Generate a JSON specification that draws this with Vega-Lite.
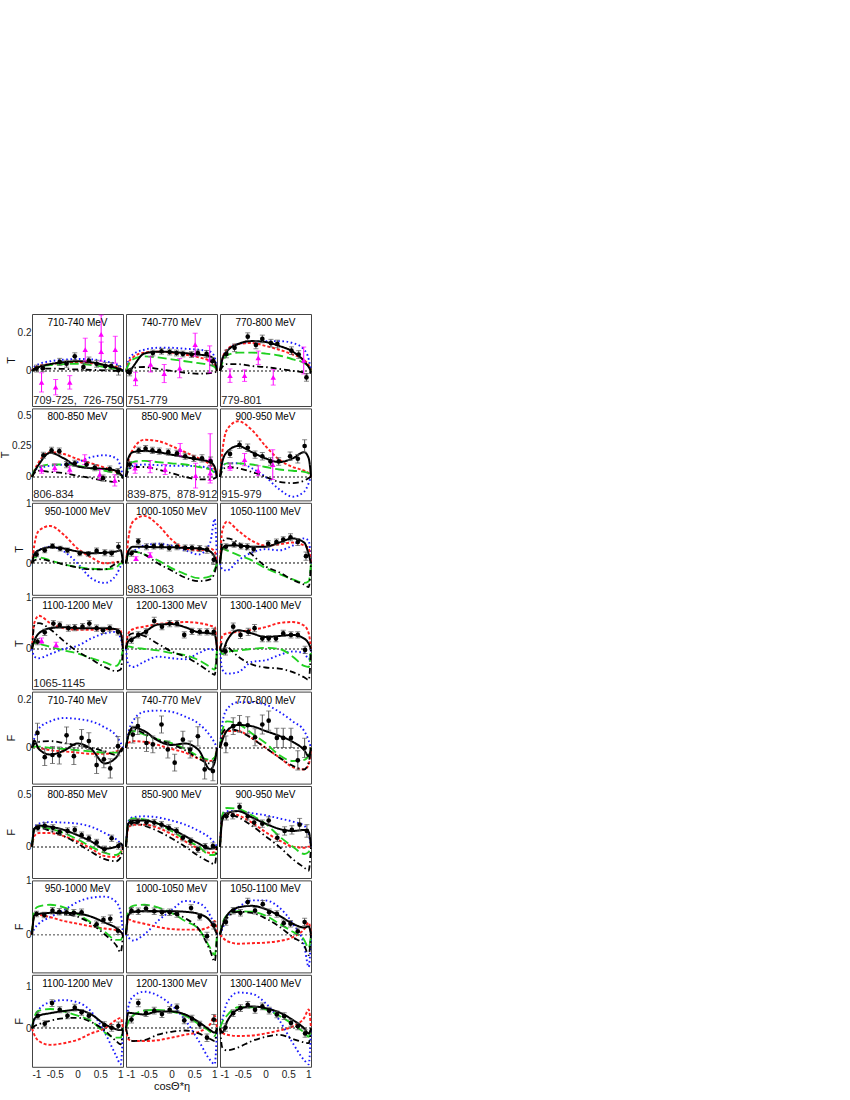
{
"$schema":"https://vega.github.io/schema/vega-lite/v6.json",
"background":"white",
"padding":{"left":-1,"top":313,"right":5,"bottom":3},
"config":{"view":{"stroke":"#444","strokeWidth":1},"font":"Liberation Sans","axis":{"grid":false,"labelFont":"Liberation Sans","titleFont":"Liberation Sans","labelColor":"#222","titleColor":"#111","titleFontWeight":"normal","labelFontSize":10,"titleFontSize":11,"ticks":false,"domain":false},"axisY":{"labelPadding":1,"titlePadding":1},"axisX":{"labelPadding":3,"titlePadding":1},
"line":{"interpolate":"monotone","clip":true},"circle":{"size":22,"color":"#000","opacity":1,"clip":true},"point":{"shape":"triangle-up","filled":true,"color":"#ff00ff","size":30,"opacity":1,"clip":true},"text":{"fontSize":10,"color":"#000"}},
"data":{"values":[
{"p":1,"t":"l","lab":"710-740 MeV","sub":"709-725,\u00a0\u00a0726-750"},
{"p":2,"t":"l","lab":"740-770 MeV","sub":"751-779"},
{"p":3,"t":"l","lab":"770-800 MeV","sub":"779-801"},
{"p":4,"t":"l","lab":"800-850 MeV","sub":"806-834"},
{"p":5,"t":"l","lab":"850-900 MeV","sub":"839-875,\u00a0\u00a0878-912"},
{"p":6,"t":"l","lab":"900-950 MeV","sub":"915-979"},
{"p":7,"t":"l","lab":"950-1000 MeV"},
{"p":8,"t":"l","lab":"1000-1050 MeV","sub":"983-1063"},
{"p":9,"t":"l","lab":"1050-1100 MeV"},
{"p":10,"t":"l","lab":"1100-1200 MeV","sub":"1065-1145"},
{"p":11,"t":"l","lab":"1200-1300 MeV"},
{"p":12,"t":"l","lab":"1300-1400 MeV"},
{"p":13,"t":"l","lab":"710-740 MeV"},
{"p":14,"t":"l","lab":"740-770 MeV"},
{"p":15,"t":"l","lab":"770-800 MeV"},
{"p":16,"t":"l","lab":"800-850 MeV"},
{"p":17,"t":"l","lab":"850-900 MeV"},
{"p":18,"t":"l","lab":"900-950 MeV"},
{"p":19,"t":"l","lab":"950-1000 MeV"},
{"p":20,"t":"l","lab":"1000-1050 MeV"},
{"p":21,"t":"l","lab":"1050-1100 MeV"},
{"p":22,"t":"l","lab":"1100-1200 MeV"},
{"p":23,"t":"l","lab":"1200-1300 MeV"},
{"p":24,"t":"l","lab":"1300-1400 MeV"},

{"p":1,"s":"C","x":-1,"y":0},{"p":1,"s":"C","x":-0.95,"y":0.02},{"p":1,"s":"C","x":-0.85,"y":0.035},{"p":1,"s":"C","x":-0.6,"y":0.05},{"p":1,"s":"C","x":-0.3,"y":0.058},{"p":1,"s":"C","x":0,"y":0.062},{"p":1,"s":"C","x":0.3,"y":0.06},{"p":1,"s":"C","x":0.6,"y":0.05},{"p":1,"s":"C","x":0.85,"y":0.035},{"p":1,"s":"C","x":0.95,"y":0.02},{"p":1,"s":"C","x":1,"y":0},
{"p":1,"s":"B","x":-1,"y":0},{"p":1,"s":"B","x":-0.95,"y":0.015},{"p":1,"s":"B","x":-0.85,"y":0.025},{"p":1,"s":"B","x":-0.6,"y":0.035},{"p":1,"s":"B","x":-0.3,"y":0.042},{"p":1,"s":"B","x":0,"y":0.045},{"p":1,"s":"B","x":0.3,"y":0.04},{"p":1,"s":"B","x":0.6,"y":0.03},{"p":1,"s":"B","x":0.85,"y":0.02},{"p":1,"s":"B","x":0.95,"y":0.01},{"p":1,"s":"B","x":1,"y":0},
{"p":1,"s":"D","x":-1,"y":0},{"p":1,"s":"D","x":-0.95,"y":0.01},{"p":1,"s":"D","x":-0.85,"y":0.02},{"p":1,"s":"D","x":-0.6,"y":0.03},{"p":1,"s":"D","x":-0.3,"y":0.035},{"p":1,"s":"D","x":0,"y":0.037},{"p":1,"s":"D","x":0.3,"y":0.03},{"p":1,"s":"D","x":0.6,"y":0.02},{"p":1,"s":"D","x":0.85,"y":0.01},{"p":1,"s":"D","x":0.95,"y":0.005},{"p":1,"s":"D","x":1,"y":0},
{"p":1,"s":"E","x":-1,"y":0},{"p":1,"s":"E","x":-0.95,"y":0.005},{"p":1,"s":"E","x":-0.85,"y":0.01},{"p":1,"s":"E","x":-0.6,"y":0.012},{"p":1,"s":"E","x":-0.3,"y":0.01},{"p":1,"s":"E","x":0,"y":0.007},{"p":1,"s":"E","x":0.3,"y":0.005},{"p":1,"s":"E","x":0.6,"y":0.003},{"p":1,"s":"E","x":0.85,"y":0},{"p":1,"s":"E","x":0.95,"y":0},{"p":1,"s":"E","x":1,"y":0},
{"p":1,"s":"A","x":-1,"y":0},{"p":1,"s":"A","x":-0.95,"y":0.01},{"p":1,"s":"A","x":-0.85,"y":0.02},{"p":1,"s":"A","x":-0.6,"y":0.035},{"p":1,"s":"A","x":-0.3,"y":0.045},{"p":1,"s":"A","x":0,"y":0.05},{"p":1,"s":"A","x":0.3,"y":0.045},{"p":1,"s":"A","x":0.6,"y":0.03},{"p":1,"s":"A","x":0.85,"y":0.015},{"p":1,"s":"A","x":0.95,"y":0.008},{"p":1,"s":"A","x":1,"y":0},

{"p":2,"s":"C","x":-1,"y":0},{"p":2,"s":"C","x":-0.95,"y":0.05},{"p":2,"s":"C","x":-0.85,"y":0.085},{"p":2,"s":"C","x":-0.6,"y":0.11},{"p":2,"s":"C","x":-0.3,"y":0.12},{"p":2,"s":"C","x":0,"y":0.12},{"p":2,"s":"C","x":0.3,"y":0.115},{"p":2,"s":"C","x":0.6,"y":0.11},{"p":2,"s":"C","x":0.85,"y":0.1},{"p":2,"s":"C","x":0.95,"y":0.07},{"p":2,"s":"C","x":1,"y":0},
{"p":2,"s":"B","x":-1,"y":0},{"p":2,"s":"B","x":-0.95,"y":0.04},{"p":2,"s":"B","x":-0.85,"y":0.07},{"p":2,"s":"B","x":-0.6,"y":0.095},{"p":2,"s":"B","x":-0.3,"y":0.1},{"p":2,"s":"B","x":0,"y":0.095},{"p":2,"s":"B","x":0.3,"y":0.085},{"p":2,"s":"B","x":0.6,"y":0.07},{"p":2,"s":"B","x":0.85,"y":0.05},{"p":2,"s":"B","x":0.95,"y":0.03},{"p":2,"s":"B","x":1,"y":0},
{"p":2,"s":"D","x":-1,"y":0},{"p":2,"s":"D","x":-0.95,"y":0.03},{"p":2,"s":"D","x":-0.85,"y":0.06},{"p":2,"s":"D","x":-0.6,"y":0.075},{"p":2,"s":"D","x":-0.3,"y":0.07},{"p":2,"s":"D","x":0,"y":0.06},{"p":2,"s":"D","x":0.3,"y":0.05},{"p":2,"s":"D","x":0.6,"y":0.04},{"p":2,"s":"D","x":0.85,"y":0.03},{"p":2,"s":"D","x":0.95,"y":0.02},{"p":2,"s":"D","x":1,"y":0},
{"p":2,"s":"E","x":-1,"y":0},{"p":2,"s":"E","x":-0.95,"y":0.005},{"p":2,"s":"E","x":-0.85,"y":0.015},{"p":2,"s":"E","x":-0.6,"y":0.02},{"p":2,"s":"E","x":-0.3,"y":0.01},{"p":2,"s":"E","x":0,"y":0},{"p":2,"s":"E","x":0.3,"y":-0.01},{"p":2,"s":"E","x":0.6,"y":-0.015},{"p":2,"s":"E","x":0.85,"y":-0.012},{"p":2,"s":"E","x":0.95,"y":-0.008},{"p":2,"s":"E","x":1,"y":0},
{"p":2,"s":"A","x":-1,"y":0},{"p":2,"s":"A","x":-0.95,"y":-0.012},{"p":2,"s":"A","x":-0.85,"y":0.02},{"p":2,"s":"A","x":-0.6,"y":0.09},{"p":2,"s":"A","x":-0.3,"y":0.1},{"p":2,"s":"A","x":0,"y":0.098},{"p":2,"s":"A","x":0.3,"y":0.092},{"p":2,"s":"A","x":0.6,"y":0.085},{"p":2,"s":"A","x":0.85,"y":0.075},{"p":2,"s":"A","x":0.95,"y":0.05},{"p":2,"s":"A","x":1,"y":0},

{"p":3,"s":"C","x":-1,"y":0},{"p":3,"s":"C","x":-0.95,"y":0.06},{"p":3,"s":"C","x":-0.85,"y":0.11},{"p":3,"s":"C","x":-0.6,"y":0.14},{"p":3,"s":"C","x":-0.3,"y":0.15},{"p":3,"s":"C","x":0,"y":0.155},{"p":3,"s":"C","x":0.3,"y":0.155},{"p":3,"s":"C","x":0.6,"y":0.145},{"p":3,"s":"C","x":0.85,"y":0.11},{"p":3,"s":"C","x":0.95,"y":0.06},{"p":3,"s":"C","x":1,"y":0},
{"p":3,"s":"B","x":-1,"y":0},{"p":3,"s":"B","x":-0.95,"y":0.06},{"p":3,"s":"B","x":-0.85,"y":0.11},{"p":3,"s":"B","x":-0.6,"y":0.14},{"p":3,"s":"B","x":-0.3,"y":0.145},{"p":3,"s":"B","x":0,"y":0.13},{"p":3,"s":"B","x":0.3,"y":0.11},{"p":3,"s":"B","x":0.6,"y":0.085},{"p":3,"s":"B","x":0.85,"y":0.055},{"p":3,"s":"B","x":0.95,"y":0.03},{"p":3,"s":"B","x":1,"y":0},
{"p":3,"s":"D","x":-1,"y":0},{"p":3,"s":"D","x":-0.95,"y":0.04},{"p":3,"s":"D","x":-0.85,"y":0.08},{"p":3,"s":"D","x":-0.6,"y":0.095},{"p":3,"s":"D","x":-0.3,"y":0.095},{"p":3,"s":"D","x":0,"y":0.09},{"p":3,"s":"D","x":0.3,"y":0.08},{"p":3,"s":"D","x":0.6,"y":0.06},{"p":3,"s":"D","x":0.85,"y":0.04},{"p":3,"s":"D","x":0.95,"y":0.02},{"p":3,"s":"D","x":1,"y":0},
{"p":3,"s":"E","x":-1,"y":0},{"p":3,"s":"E","x":-0.95,"y":0.02},{"p":3,"s":"E","x":-0.85,"y":0.035},{"p":3,"s":"E","x":-0.6,"y":0.035},{"p":3,"s":"E","x":-0.3,"y":0.025},{"p":3,"s":"E","x":0,"y":0.02},{"p":3,"s":"E","x":0.3,"y":0.01},{"p":3,"s":"E","x":0.6,"y":0},{"p":3,"s":"E","x":0.85,"y":-0.01},{"p":3,"s":"E","x":0.95,"y":-0.02},{"p":3,"s":"E","x":1,"y":0},
{"p":3,"s":"A","x":-1,"y":0},{"p":3,"s":"A","x":-0.95,"y":0.06},{"p":3,"s":"A","x":-0.85,"y":0.1},{"p":3,"s":"A","x":-0.6,"y":0.14},{"p":3,"s":"A","x":-0.3,"y":0.155},{"p":3,"s":"A","x":0,"y":0.15},{"p":3,"s":"A","x":0.3,"y":0.13},{"p":3,"s":"A","x":0.6,"y":0.1},{"p":3,"s":"A","x":0.85,"y":0.05},{"p":3,"s":"A","x":0.95,"y":0.02},{"p":3,"s":"A","x":1,"y":0},

{"p":4,"s":"C","x":-1,"y":0},{"p":4,"s":"C","x":-0.95,"y":0.05},{"p":4,"s":"C","x":-0.85,"y":0.07},{"p":4,"s":"C","x":-0.6,"y":0.09},{"p":4,"s":"C","x":-0.3,"y":0.1},{"p":4,"s":"C","x":0,"y":0.12},{"p":4,"s":"C","x":0.3,"y":0.16},{"p":4,"s":"C","x":0.6,"y":0.175},{"p":4,"s":"C","x":0.85,"y":0.15},{"p":4,"s":"C","x":0.95,"y":0.08},{"p":4,"s":"C","x":1,"y":0},
{"p":4,"s":"B","x":-1,"y":0},{"p":4,"s":"B","x":-0.95,"y":0.05},{"p":4,"s":"B","x":-0.85,"y":0.12},{"p":4,"s":"B","x":-0.6,"y":0.2},{"p":4,"s":"B","x":-0.3,"y":0.185},{"p":4,"s":"B","x":0,"y":0.145},{"p":4,"s":"B","x":0.3,"y":0.11},{"p":4,"s":"B","x":0.6,"y":0.075},{"p":4,"s":"B","x":0.85,"y":0.04},{"p":4,"s":"B","x":0.95,"y":0.02},{"p":4,"s":"B","x":1,"y":0},
{"p":4,"s":"D","x":-1,"y":0},{"p":4,"s":"D","x":-0.95,"y":0.05},{"p":4,"s":"D","x":-0.85,"y":0.08},{"p":4,"s":"D","x":-0.6,"y":0.1},{"p":4,"s":"D","x":-0.3,"y":0.1},{"p":4,"s":"D","x":0,"y":0.09},{"p":4,"s":"D","x":0.3,"y":0.07},{"p":4,"s":"D","x":0.6,"y":0.05},{"p":4,"s":"D","x":0.85,"y":0.03},{"p":4,"s":"D","x":0.95,"y":0.015},{"p":4,"s":"D","x":1,"y":0},
{"p":4,"s":"E","x":-1,"y":0},{"p":4,"s":"E","x":-0.95,"y":0.03},{"p":4,"s":"E","x":-0.85,"y":0.05},{"p":4,"s":"E","x":-0.6,"y":0.04},{"p":4,"s":"E","x":-0.3,"y":0.03},{"p":4,"s":"E","x":0,"y":0.01},{"p":4,"s":"E","x":0.3,"y":-0.01},{"p":4,"s":"E","x":0.6,"y":-0.03},{"p":4,"s":"E","x":0.85,"y":-0.04},{"p":4,"s":"E","x":0.95,"y":-0.02},{"p":4,"s":"E","x":1,"y":0},
{"p":4,"s":"A","x":-1,"y":0},{"p":4,"s":"A","x":-0.95,"y":0.04},{"p":4,"s":"A","x":-0.85,"y":0.1},{"p":4,"s":"A","x":-0.6,"y":0.195},{"p":4,"s":"A","x":-0.3,"y":0.15},{"p":4,"s":"A","x":0,"y":0.085},{"p":4,"s":"A","x":0.3,"y":0.07},{"p":4,"s":"A","x":0.6,"y":0.065},{"p":4,"s":"A","x":0.85,"y":0.05},{"p":4,"s":"A","x":0.95,"y":0.02},{"p":4,"s":"A","x":1,"y":0},

{"p":5,"s":"C","x":-1,"y":0},{"p":5,"s":"C","x":-0.95,"y":0.06},{"p":5,"s":"C","x":-0.85,"y":0.09},{"p":5,"s":"C","x":-0.6,"y":0.1},{"p":5,"s":"C","x":-0.3,"y":0.095},{"p":5,"s":"C","x":0,"y":0.09},{"p":5,"s":"C","x":0.3,"y":0.09},{"p":5,"s":"C","x":0.6,"y":0.085},{"p":5,"s":"C","x":0.85,"y":0.07},{"p":5,"s":"C","x":0.95,"y":0.04},{"p":5,"s":"C","x":1,"y":0},
{"p":5,"s":"B","x":-1,"y":0},{"p":5,"s":"B","x":-0.95,"y":0.12},{"p":5,"s":"B","x":-0.85,"y":0.22},{"p":5,"s":"B","x":-0.6,"y":0.3},{"p":5,"s":"B","x":-0.3,"y":0.29},{"p":5,"s":"B","x":0,"y":0.25},{"p":5,"s":"B","x":0.3,"y":0.2},{"p":5,"s":"B","x":0.6,"y":0.15},{"p":5,"s":"B","x":0.85,"y":0.1},{"p":5,"s":"B","x":0.95,"y":0.06},{"p":5,"s":"B","x":1,"y":0},
{"p":5,"s":"D","x":-1,"y":0},{"p":5,"s":"D","x":-0.95,"y":0.08},{"p":5,"s":"D","x":-0.85,"y":0.12},{"p":5,"s":"D","x":-0.6,"y":0.13},{"p":5,"s":"D","x":-0.3,"y":0.12},{"p":5,"s":"D","x":0,"y":0.11},{"p":5,"s":"D","x":0.3,"y":0.1},{"p":5,"s":"D","x":0.6,"y":0.08},{"p":5,"s":"D","x":0.85,"y":0.06},{"p":5,"s":"D","x":0.95,"y":0.03},{"p":5,"s":"D","x":1,"y":0},
{"p":5,"s":"E","x":-1,"y":0},{"p":5,"s":"E","x":-0.95,"y":0.05},{"p":5,"s":"E","x":-0.85,"y":0.08},{"p":5,"s":"E","x":-0.6,"y":0.08},{"p":5,"s":"E","x":-0.3,"y":0.06},{"p":5,"s":"E","x":0,"y":0.03},{"p":5,"s":"E","x":0.3,"y":0},{"p":5,"s":"E","x":0.6,"y":-0.02},{"p":5,"s":"E","x":0.85,"y":-0.02},{"p":5,"s":"E","x":0.95,"y":-0.01},{"p":5,"s":"E","x":1,"y":0},
{"p":5,"s":"A","x":-1,"y":0},{"p":5,"s":"A","x":-0.95,"y":0.15},{"p":5,"s":"A","x":-0.85,"y":0.2},{"p":5,"s":"A","x":-0.6,"y":0.21},{"p":5,"s":"A","x":-0.3,"y":0.2},{"p":5,"s":"A","x":0,"y":0.18},{"p":5,"s":"A","x":0.3,"y":0.16},{"p":5,"s":"A","x":0.6,"y":0.14},{"p":5,"s":"A","x":0.85,"y":0.12},{"p":5,"s":"A","x":0.95,"y":0.08},{"p":5,"s":"A","x":1,"y":0},

{"p":6,"s":"C","x":-1,"y":0},{"p":6,"s":"C","x":-0.95,"y":0.08},{"p":6,"s":"C","x":-0.85,"y":0.11},{"p":6,"s":"C","x":-0.6,"y":0.11},{"p":6,"s":"C","x":-0.3,"y":0.07},{"p":6,"s":"C","x":0,"y":0},{"p":6,"s":"C","x":0.3,"y":-0.1},{"p":6,"s":"C","x":0.6,"y":-0.16},{"p":6,"s":"C","x":0.85,"y":-0.12},{"p":6,"s":"C","x":0.95,"y":-0.05},{"p":6,"s":"C","x":1,"y":0},
{"p":6,"s":"B","x":-1,"y":0},{"p":6,"s":"B","x":-0.95,"y":0.2},{"p":6,"s":"B","x":-0.85,"y":0.38},{"p":6,"s":"B","x":-0.6,"y":0.45},{"p":6,"s":"B","x":-0.3,"y":0.38},{"p":6,"s":"B","x":0,"y":0.25},{"p":6,"s":"B","x":0.3,"y":0.14},{"p":6,"s":"B","x":0.6,"y":0.08},{"p":6,"s":"B","x":0.85,"y":0.05},{"p":6,"s":"B","x":0.95,"y":0.03},{"p":6,"s":"B","x":1,"y":0},
{"p":6,"s":"D","x":-1,"y":0},{"p":6,"s":"D","x":-0.95,"y":0.08},{"p":6,"s":"D","x":-0.85,"y":0.11},{"p":6,"s":"D","x":-0.6,"y":0.11},{"p":6,"s":"D","x":-0.3,"y":0.1},{"p":6,"s":"D","x":0,"y":0.08},{"p":6,"s":"D","x":0.3,"y":0.06},{"p":6,"s":"D","x":0.6,"y":0.05},{"p":6,"s":"D","x":0.85,"y":0.04},{"p":6,"s":"D","x":0.95,"y":0.03},{"p":6,"s":"D","x":1,"y":0},
{"p":6,"s":"E","x":-1,"y":0},{"p":6,"s":"E","x":-0.95,"y":0.05},{"p":6,"s":"E","x":-0.85,"y":0.08},{"p":6,"s":"E","x":-0.6,"y":0.07},{"p":6,"s":"E","x":-0.3,"y":0.04},{"p":6,"s":"E","x":0,"y":0},{"p":6,"s":"E","x":0.3,"y":-0.04},{"p":6,"s":"E","x":0.6,"y":-0.05},{"p":6,"s":"E","x":0.85,"y":-0.03},{"p":6,"s":"E","x":0.95,"y":-0.01},{"p":6,"s":"E","x":1,"y":0},
{"p":6,"s":"A","x":-1,"y":0},{"p":6,"s":"A","x":-0.95,"y":0.12},{"p":6,"s":"A","x":-0.85,"y":0.2},{"p":6,"s":"A","x":-0.6,"y":0.25},{"p":6,"s":"A","x":-0.3,"y":0.2},{"p":6,"s":"A","x":0,"y":0.15},{"p":6,"s":"A","x":0.3,"y":0.12},{"p":6,"s":"A","x":0.6,"y":0.15},{"p":6,"s":"A","x":0.85,"y":0.2},{"p":6,"s":"A","x":0.95,"y":0.15},{"p":6,"s":"A","x":1,"y":0},

{"p":7,"s":"C","x":-1,"y":0},{"p":7,"s":"C","x":-0.95,"y":0.15},{"p":7,"s":"C","x":-0.85,"y":0.22},{"p":7,"s":"C","x":-0.6,"y":0.28},{"p":7,"s":"C","x":-0.3,"y":0.2},{"p":7,"s":"C","x":0,"y":0},{"p":7,"s":"C","x":0.3,"y":-0.25},{"p":7,"s":"C","x":0.6,"y":-0.33},{"p":7,"s":"C","x":0.85,"y":-0.2},{"p":7,"s":"C","x":0.95,"y":-0.05},{"p":7,"s":"C","x":1,"y":0},
{"p":7,"s":"B","x":-1,"y":0},{"p":7,"s":"B","x":-0.95,"y":0.3},{"p":7,"s":"B","x":-0.85,"y":0.55},{"p":7,"s":"B","x":-0.6,"y":0.63},{"p":7,"s":"B","x":-0.3,"y":0.48},{"p":7,"s":"B","x":0,"y":0.25},{"p":7,"s":"B","x":0.3,"y":0.1},{"p":7,"s":"B","x":0.6,"y":0},{"p":7,"s":"B","x":0.85,"y":0.02},{"p":7,"s":"B","x":0.95,"y":0.03},{"p":7,"s":"B","x":1,"y":0},
{"p":7,"s":"D","x":-1,"y":0},{"p":7,"s":"D","x":-0.95,"y":0.1},{"p":7,"s":"D","x":-0.85,"y":0.1},{"p":7,"s":"D","x":-0.6,"y":0.05},{"p":7,"s":"D","x":-0.3,"y":-0.02},{"p":7,"s":"D","x":0,"y":-0.06},{"p":7,"s":"D","x":0.3,"y":-0.09},{"p":7,"s":"D","x":0.6,"y":-0.1},{"p":7,"s":"D","x":0.85,"y":-0.07},{"p":7,"s":"D","x":0.95,"y":0},{"p":7,"s":"D","x":1,"y":0},
{"p":7,"s":"E","x":-1,"y":0},{"p":7,"s":"E","x":-0.95,"y":0.05},{"p":7,"s":"E","x":-0.85,"y":0.07},{"p":7,"s":"E","x":-0.6,"y":0.04},{"p":7,"s":"E","x":-0.3,"y":-0.02},{"p":7,"s":"E","x":0,"y":-0.07},{"p":7,"s":"E","x":0.3,"y":-0.1},{"p":7,"s":"E","x":0.6,"y":-0.1},{"p":7,"s":"E","x":0.85,"y":0},{"p":7,"s":"E","x":0.95,"y":0.05},{"p":7,"s":"E","x":1,"y":0},
{"p":7,"s":"A","x":-1,"y":0},{"p":7,"s":"A","x":-0.95,"y":0.15},{"p":7,"s":"A","x":-0.85,"y":0.22},{"p":7,"s":"A","x":-0.6,"y":0.27},{"p":7,"s":"A","x":-0.3,"y":0.25},{"p":7,"s":"A","x":0,"y":0.2},{"p":7,"s":"A","x":0.3,"y":0.17},{"p":7,"s":"A","x":0.6,"y":0.18},{"p":7,"s":"A","x":0.85,"y":0.2},{"p":7,"s":"A","x":0.95,"y":0.22},{"p":7,"s":"A","x":1,"y":0},

{"p":8,"s":"C","x":-1,"y":0},{"p":8,"s":"C","x":-0.95,"y":0.15},{"p":8,"s":"C","x":-0.85,"y":0.2},{"p":8,"s":"C","x":-0.6,"y":0.3},{"p":8,"s":"C","x":-0.3,"y":0.33},{"p":8,"s":"C","x":0,"y":0.3},{"p":8,"s":"C","x":0.3,"y":0.22},{"p":8,"s":"C","x":0.6,"y":0.15},{"p":8,"s":"C","x":0.85,"y":0.35},{"p":8,"s":"C","x":0.95,"y":0.75},{"p":8,"s":"C","x":1,"y":0},
{"p":8,"s":"B","x":-1,"y":0},{"p":8,"s":"B","x":-0.95,"y":0.4},{"p":8,"s":"B","x":-0.85,"y":0.7},{"p":8,"s":"B","x":-0.6,"y":0.8},{"p":8,"s":"B","x":-0.3,"y":0.65},{"p":8,"s":"B","x":0,"y":0.4},{"p":8,"s":"B","x":0.3,"y":0.25},{"p":8,"s":"B","x":0.6,"y":0.22},{"p":8,"s":"B","x":0.85,"y":0.25},{"p":8,"s":"B","x":0.95,"y":0.2},{"p":8,"s":"B","x":1,"y":0},
{"p":8,"s":"D","x":-1,"y":0},{"p":8,"s":"D","x":-0.95,"y":0.15},{"p":8,"s":"D","x":-0.85,"y":0.2},{"p":8,"s":"D","x":-0.6,"y":0.15},{"p":8,"s":"D","x":-0.3,"y":0.05},{"p":8,"s":"D","x":0,"y":-0.08},{"p":8,"s":"D","x":0.3,"y":-0.18},{"p":8,"s":"D","x":0.6,"y":-0.25},{"p":8,"s":"D","x":0.85,"y":-0.22},{"p":8,"s":"D","x":0.95,"y":-0.1},{"p":8,"s":"D","x":1,"y":0},
{"p":8,"s":"E","x":-1,"y":0},{"p":8,"s":"E","x":-0.95,"y":0.15},{"p":8,"s":"E","x":-0.85,"y":0.2},{"p":8,"s":"E","x":-0.6,"y":0.15},{"p":8,"s":"E","x":-0.3,"y":0},{"p":8,"s":"E","x":0,"y":-0.12},{"p":8,"s":"E","x":0.3,"y":-0.24},{"p":8,"s":"E","x":0.6,"y":-0.3},{"p":8,"s":"E","x":0.85,"y":-0.27},{"p":8,"s":"E","x":0.95,"y":-0.15},{"p":8,"s":"E","x":1,"y":0},
{"p":8,"s":"A","x":-1,"y":0},{"p":8,"s":"A","x":-0.95,"y":0.2},{"p":8,"s":"A","x":-0.85,"y":0.28},{"p":8,"s":"A","x":-0.6,"y":0.28},{"p":8,"s":"A","x":-0.3,"y":0.27},{"p":8,"s":"A","x":0,"y":0.27},{"p":8,"s":"A","x":0.3,"y":0.26},{"p":8,"s":"A","x":0.6,"y":0.25},{"p":8,"s":"A","x":0.85,"y":0.2},{"p":8,"s":"A","x":0.95,"y":0.1},{"p":8,"s":"A","x":1,"y":0},

{"p":9,"s":"C","x":-1,"y":0},{"p":9,"s":"C","x":-0.95,"y":-0.1},{"p":9,"s":"C","x":-0.85,"y":-0.12},{"p":9,"s":"C","x":-0.6,"y":0.05},{"p":9,"s":"C","x":-0.3,"y":0.18},{"p":9,"s":"C","x":0,"y":0.24},{"p":9,"s":"C","x":0.3,"y":0.22},{"p":9,"s":"C","x":0.6,"y":0.3},{"p":9,"s":"C","x":0.85,"y":0.42},{"p":9,"s":"C","x":0.95,"y":0.38},{"p":9,"s":"C","x":1,"y":0},
{"p":9,"s":"B","x":-1,"y":0},{"p":9,"s":"B","x":-0.95,"y":0.55},{"p":9,"s":"B","x":-0.85,"y":0.7},{"p":9,"s":"B","x":-0.6,"y":0.55},{"p":9,"s":"B","x":-0.3,"y":0.38},{"p":9,"s":"B","x":0,"y":0.3},{"p":9,"s":"B","x":0.3,"y":0.32},{"p":9,"s":"B","x":0.6,"y":0.35},{"p":9,"s":"B","x":0.85,"y":0.3},{"p":9,"s":"B","x":0.95,"y":0.25},{"p":9,"s":"B","x":1,"y":0},
{"p":9,"s":"D","x":-1,"y":0},{"p":9,"s":"D","x":-0.95,"y":0.25},{"p":9,"s":"D","x":-0.85,"y":0.22},{"p":9,"s":"D","x":-0.6,"y":0.14},{"p":9,"s":"D","x":-0.3,"y":0.05},{"p":9,"s":"D","x":0,"y":-0.08},{"p":9,"s":"D","x":0.3,"y":-0.18},{"p":9,"s":"D","x":0.6,"y":-0.27},{"p":9,"s":"D","x":0.85,"y":-0.33},{"p":9,"s":"D","x":0.95,"y":-0.3},{"p":9,"s":"D","x":1,"y":0},
{"p":9,"s":"E","x":-1,"y":0},{"p":9,"s":"E","x":-0.95,"y":0.35},{"p":9,"s":"E","x":-0.85,"y":0.42},{"p":9,"s":"E","x":-0.6,"y":0.35},{"p":9,"s":"E","x":-0.3,"y":0.15},{"p":9,"s":"E","x":0,"y":-0.05},{"p":9,"s":"E","x":0.3,"y":-0.15},{"p":9,"s":"E","x":0.6,"y":-0.28},{"p":9,"s":"E","x":0.85,"y":-0.36},{"p":9,"s":"E","x":0.95,"y":-0.4},{"p":9,"s":"E","x":1,"y":0},
{"p":9,"s":"A","x":-1,"y":0},{"p":9,"s":"A","x":-0.95,"y":0.25},{"p":9,"s":"A","x":-0.85,"y":0.3},{"p":9,"s":"A","x":-0.6,"y":0.3},{"p":9,"s":"A","x":-0.3,"y":0.28},{"p":9,"s":"A","x":0,"y":0.28},{"p":9,"s":"A","x":0.3,"y":0.35},{"p":9,"s":"A","x":0.6,"y":0.42},{"p":9,"s":"A","x":0.85,"y":0.35},{"p":9,"s":"A","x":0.95,"y":0.15},{"p":9,"s":"A","x":1,"y":0},

{"p":10,"s":"C","x":-1,"y":0},{"p":10,"s":"C","x":-0.95,"y":-0.15},{"p":10,"s":"C","x":-0.85,"y":-0.18},{"p":10,"s":"C","x":-0.6,"y":-0.1},{"p":10,"s":"C","x":-0.3,"y":0},{"p":10,"s":"C","x":0,"y":0.06},{"p":10,"s":"C","x":0.3,"y":0.2},{"p":10,"s":"C","x":0.6,"y":0.3},{"p":10,"s":"C","x":0.85,"y":0.33},{"p":10,"s":"C","x":0.95,"y":0.2},{"p":10,"s":"C","x":1,"y":0},
{"p":10,"s":"B","x":-1,"y":0},{"p":10,"s":"B","x":-0.95,"y":0.5},{"p":10,"s":"B","x":-0.85,"y":0.64},{"p":10,"s":"B","x":-0.6,"y":0.5},{"p":10,"s":"B","x":-0.3,"y":0.4},{"p":10,"s":"B","x":0,"y":0.37},{"p":10,"s":"B","x":0.3,"y":0.37},{"p":10,"s":"B","x":0.6,"y":0.38},{"p":10,"s":"B","x":0.85,"y":0.38},{"p":10,"s":"B","x":0.95,"y":0.35},{"p":10,"s":"B","x":1,"y":0},
{"p":10,"s":"D","x":-1,"y":0},{"p":10,"s":"D","x":-0.95,"y":0.12},{"p":10,"s":"D","x":-0.85,"y":0.1},{"p":10,"s":"D","x":-0.6,"y":0.04},{"p":10,"s":"D","x":-0.3,"y":-0.03},{"p":10,"s":"D","x":0,"y":-0.09},{"p":10,"s":"D","x":0.3,"y":-0.18},{"p":10,"s":"D","x":0.6,"y":-0.26},{"p":10,"s":"D","x":0.85,"y":-0.33},{"p":10,"s":"D","x":0.95,"y":-0.2},{"p":10,"s":"D","x":1,"y":0},
{"p":10,"s":"E","x":-1,"y":0},{"p":10,"s":"E","x":-0.95,"y":0.45},{"p":10,"s":"E","x":-0.85,"y":0.5},{"p":10,"s":"E","x":-0.6,"y":0.38},{"p":10,"s":"E","x":-0.3,"y":0.15},{"p":10,"s":"E","x":0,"y":-0.05},{"p":10,"s":"E","x":0.3,"y":-0.2},{"p":10,"s":"E","x":0.6,"y":-0.35},{"p":10,"s":"E","x":0.85,"y":-0.43},{"p":10,"s":"E","x":0.95,"y":-0.4},{"p":10,"s":"E","x":1,"y":0},
{"p":10,"s":"A","x":-1,"y":0},{"p":10,"s":"A","x":-0.95,"y":0.15},{"p":10,"s":"A","x":-0.85,"y":0.3},{"p":10,"s":"A","x":-0.6,"y":0.4},{"p":10,"s":"A","x":-0.3,"y":0.42},{"p":10,"s":"A","x":0,"y":0.4},{"p":10,"s":"A","x":0.3,"y":0.4},{"p":10,"s":"A","x":0.6,"y":0.4},{"p":10,"s":"A","x":0.85,"y":0.38},{"p":10,"s":"A","x":0.95,"y":0.3},{"p":10,"s":"A","x":1,"y":0},

{"p":11,"s":"C","x":-1,"y":0},{"p":11,"s":"C","x":-0.95,"y":-0.3},{"p":11,"s":"C","x":-0.85,"y":-0.35},{"p":11,"s":"C","x":-0.6,"y":-0.25},{"p":11,"s":"C","x":-0.3,"y":-0.15},{"p":11,"s":"C","x":0,"y":-0.18},{"p":11,"s":"C","x":0.3,"y":-0.2},{"p":11,"s":"C","x":0.6,"y":-0.08},{"p":11,"s":"C","x":0.85,"y":0},{"p":11,"s":"C","x":0.95,"y":-0.03},{"p":11,"s":"C","x":1,"y":0},
{"p":11,"s":"B","x":-1,"y":0},{"p":11,"s":"B","x":-0.95,"y":0.3},{"p":11,"s":"B","x":-0.85,"y":0.38},{"p":11,"s":"B","x":-0.6,"y":0.43},{"p":11,"s":"B","x":-0.3,"y":0.48},{"p":11,"s":"B","x":0,"y":0.5},{"p":11,"s":"B","x":0.3,"y":0.52},{"p":11,"s":"B","x":0.6,"y":0.5},{"p":11,"s":"B","x":0.85,"y":0.45},{"p":11,"s":"B","x":0.95,"y":0.42},{"p":11,"s":"B","x":1,"y":0},
{"p":11,"s":"D","x":-1,"y":0},{"p":11,"s":"D","x":-0.95,"y":0.05},{"p":11,"s":"D","x":-0.85,"y":0.03},{"p":11,"s":"D","x":-0.6,"y":0},{"p":11,"s":"D","x":-0.3,"y":-0.03},{"p":11,"s":"D","x":0,"y":-0.08},{"p":11,"s":"D","x":0.3,"y":-0.12},{"p":11,"s":"D","x":0.6,"y":-0.22},{"p":11,"s":"D","x":0.85,"y":-0.35},{"p":11,"s":"D","x":0.95,"y":-0.4},{"p":11,"s":"D","x":1,"y":0},
{"p":11,"s":"E","x":-1,"y":0},{"p":11,"s":"E","x":-0.95,"y":0.25},{"p":11,"s":"E","x":-0.85,"y":0.3},{"p":11,"s":"E","x":-0.6,"y":0.25},{"p":11,"s":"E","x":-0.3,"y":0.1},{"p":11,"s":"E","x":0,"y":-0.05},{"p":11,"s":"E","x":0.3,"y":-0.15},{"p":11,"s":"E","x":0.6,"y":-0.3},{"p":11,"s":"E","x":0.85,"y":-0.45},{"p":11,"s":"E","x":0.95,"y":-0.5},{"p":11,"s":"E","x":1,"y":0},
{"p":11,"s":"A","x":-1,"y":0},{"p":11,"s":"A","x":-0.95,"y":0.15},{"p":11,"s":"A","x":-0.85,"y":0.2},{"p":11,"s":"A","x":-0.6,"y":0.32},{"p":11,"s":"A","x":-0.3,"y":0.47},{"p":11,"s":"A","x":0,"y":0.48},{"p":11,"s":"A","x":0.3,"y":0.42},{"p":11,"s":"A","x":0.6,"y":0.32},{"p":11,"s":"A","x":0.85,"y":0.3},{"p":11,"s":"A","x":0.95,"y":0.28},{"p":11,"s":"A","x":1,"y":0},

{"p":12,"s":"C","x":-1,"y":0},{"p":12,"s":"C","x":-0.95,"y":-0.4},{"p":12,"s":"C","x":-0.85,"y":-0.48},{"p":12,"s":"C","x":-0.6,"y":-0.45},{"p":12,"s":"C","x":-0.3,"y":-0.25},{"p":12,"s":"C","x":0,"y":-0.22},{"p":12,"s":"C","x":0.3,"y":-0.12},{"p":12,"s":"C","x":0.6,"y":-0.05},{"p":12,"s":"C","x":0.85,"y":-0.08},{"p":12,"s":"C","x":0.95,"y":-0.2},{"p":12,"s":"C","x":1,"y":0},
{"p":12,"s":"B","x":-1,"y":0},{"p":12,"s":"B","x":-0.95,"y":0.25},{"p":12,"s":"B","x":-0.85,"y":0.3},{"p":12,"s":"B","x":-0.6,"y":0.33},{"p":12,"s":"B","x":-0.3,"y":0.37},{"p":12,"s":"B","x":0,"y":0.42},{"p":12,"s":"B","x":0.3,"y":0.5},{"p":12,"s":"B","x":0.6,"y":0.52},{"p":12,"s":"B","x":0.85,"y":0.45},{"p":12,"s":"B","x":0.95,"y":0.3},{"p":12,"s":"B","x":1,"y":0},
{"p":12,"s":"D","x":-1,"y":0},{"p":12,"s":"D","x":-0.95,"y":-0.1},{"p":12,"s":"D","x":-0.85,"y":-0.06},{"p":12,"s":"D","x":-0.6,"y":-0.03},{"p":12,"s":"D","x":-0.3,"y":0},{"p":12,"s":"D","x":0,"y":0.02},{"p":12,"s":"D","x":0.3,"y":0},{"p":12,"s":"D","x":0.6,"y":-0.15},{"p":12,"s":"D","x":0.85,"y":-0.33},{"p":12,"s":"D","x":0.95,"y":-0.35},{"p":12,"s":"D","x":1,"y":0},
{"p":12,"s":"E","x":-1,"y":0},{"p":12,"s":"E","x":-0.95,"y":0.1},{"p":12,"s":"E","x":-0.85,"y":0.05},{"p":12,"s":"E","x":-0.6,"y":-0.15},{"p":12,"s":"E","x":-0.3,"y":-0.3},{"p":12,"s":"E","x":0,"y":-0.36},{"p":12,"s":"E","x":0.3,"y":-0.38},{"p":12,"s":"E","x":0.6,"y":-0.45},{"p":12,"s":"E","x":0.85,"y":-0.55},{"p":12,"s":"E","x":0.95,"y":-0.6},{"p":12,"s":"E","x":1,"y":0},
{"p":12,"s":"A","x":-1,"y":0},{"p":12,"s":"A","x":-0.95,"y":-0.05},{"p":12,"s":"A","x":-0.85,"y":0.15},{"p":12,"s":"A","x":-0.6,"y":0.36},{"p":12,"s":"A","x":-0.3,"y":0.3},{"p":12,"s":"A","x":0,"y":0.23},{"p":12,"s":"A","x":0.3,"y":0.25},{"p":12,"s":"A","x":0.6,"y":0.27},{"p":12,"s":"A","x":0.85,"y":0.2},{"p":12,"s":"A","x":0.95,"y":0.1},{"p":12,"s":"A","x":1,"y":0},

{"p":13,"s":"C","x":-1,"y":0},{"p":13,"s":"C","x":-0.95,"y":0.04},{"p":13,"s":"C","x":-0.85,"y":0.08},{"p":13,"s":"C","x":-0.6,"y":0.11},{"p":13,"s":"C","x":-0.3,"y":0.124},{"p":13,"s":"C","x":0,"y":0.12},{"p":13,"s":"C","x":0.3,"y":0.11},{"p":13,"s":"C","x":0.6,"y":0.085},{"p":13,"s":"C","x":0.85,"y":0.05},{"p":13,"s":"C","x":0.95,"y":0.02},{"p":13,"s":"C","x":1,"y":0},
{"p":13,"s":"B","x":-1,"y":0},{"p":13,"s":"B","x":-0.95,"y":0.005},{"p":13,"s":"B","x":-0.85,"y":0},{"p":13,"s":"B","x":-0.6,"y":-0.01},{"p":13,"s":"B","x":-0.3,"y":-0.015},{"p":13,"s":"B","x":0,"y":-0.02},{"p":13,"s":"B","x":0.3,"y":-0.025},{"p":13,"s":"B","x":0.6,"y":-0.025},{"p":13,"s":"B","x":0.85,"y":-0.015},{"p":13,"s":"B","x":0.95,"y":-0.005},{"p":13,"s":"B","x":1,"y":0},
{"p":13,"s":"D","x":-1,"y":0},{"p":13,"s":"D","x":-0.95,"y":0.005},{"p":13,"s":"D","x":-0.85,"y":0.005},{"p":13,"s":"D","x":-0.6,"y":0},{"p":13,"s":"D","x":-0.3,"y":-0.005},{"p":13,"s":"D","x":0,"y":-0.01},{"p":13,"s":"D","x":0.3,"y":-0.015},{"p":13,"s":"D","x":0.6,"y":-0.02},{"p":13,"s":"D","x":0.85,"y":-0.02},{"p":13,"s":"D","x":0.95,"y":-0.01},{"p":13,"s":"D","x":1,"y":0},
{"p":13,"s":"E","x":-1,"y":0},{"p":13,"s":"E","x":-0.95,"y":0.015},{"p":13,"s":"E","x":-0.85,"y":0.025},{"p":13,"s":"E","x":-0.6,"y":0.028},{"p":13,"s":"E","x":-0.3,"y":0.02},{"p":13,"s":"E","x":0,"y":0.01},{"p":13,"s":"E","x":0.3,"y":0},{"p":13,"s":"E","x":0.6,"y":-0.015},{"p":13,"s":"E","x":0.85,"y":-0.03},{"p":13,"s":"E","x":0.95,"y":-0.02},{"p":13,"s":"E","x":1,"y":0},
{"p":13,"s":"A","x":-1,"y":0},{"p":13,"s":"A","x":-0.95,"y":0.03},{"p":13,"s":"A","x":-0.85,"y":-0.005},{"p":13,"s":"A","x":-0.6,"y":-0.028},{"p":13,"s":"A","x":-0.3,"y":-0.012},{"p":13,"s":"A","x":0,"y":0.018},{"p":13,"s":"A","x":0.3,"y":-0.005},{"p":13,"s":"A","x":0.6,"y":-0.065},{"p":13,"s":"A","x":0.85,"y":-0.04},{"p":13,"s":"A","x":0.95,"y":-0.01},{"p":13,"s":"A","x":1,"y":0},

{"p":14,"s":"C","x":-1,"y":0},{"p":14,"s":"C","x":-0.95,"y":0.06},{"p":14,"s":"C","x":-0.85,"y":0.11},{"p":14,"s":"C","x":-0.6,"y":0.15},{"p":14,"s":"C","x":-0.3,"y":0.155},{"p":14,"s":"C","x":0,"y":0.15},{"p":14,"s":"C","x":0.3,"y":0.13},{"p":14,"s":"C","x":0.6,"y":0.1},{"p":14,"s":"C","x":0.85,"y":0.05},{"p":14,"s":"C","x":0.95,"y":0.02},{"p":14,"s":"C","x":1,"y":0},
{"p":14,"s":"B","x":-1,"y":0},{"p":14,"s":"B","x":-0.95,"y":0.02},{"p":14,"s":"B","x":-0.85,"y":0.028},{"p":14,"s":"B","x":-0.6,"y":0.025},{"p":14,"s":"B","x":-0.3,"y":0.012},{"p":14,"s":"B","x":0,"y":-0.005},{"p":14,"s":"B","x":0.3,"y":-0.02},{"p":14,"s":"B","x":0.6,"y":-0.045},{"p":14,"s":"B","x":0.85,"y":-0.055},{"p":14,"s":"B","x":0.95,"y":-0.04},{"p":14,"s":"B","x":1,"y":0},
{"p":14,"s":"D","x":-1,"y":0},{"p":14,"s":"D","x":-0.95,"y":0.05},{"p":14,"s":"D","x":-0.85,"y":0.07},{"p":14,"s":"D","x":-0.6,"y":0.055},{"p":14,"s":"D","x":-0.3,"y":0.035},{"p":14,"s":"D","x":0,"y":0.02},{"p":14,"s":"D","x":0.3,"y":-0.005},{"p":14,"s":"D","x":0.6,"y":-0.035},{"p":14,"s":"D","x":0.85,"y":-0.05},{"p":14,"s":"D","x":0.95,"y":-0.04},{"p":14,"s":"D","x":1,"y":0},
{"p":14,"s":"E","x":-1,"y":0},{"p":14,"s":"E","x":-0.95,"y":0.05},{"p":14,"s":"E","x":-0.85,"y":0.078},{"p":14,"s":"E","x":-0.6,"y":0.06},{"p":14,"s":"E","x":-0.3,"y":0.035},{"p":14,"s":"E","x":0,"y":0.015},{"p":14,"s":"E","x":0.3,"y":-0.01},{"p":14,"s":"E","x":0.6,"y":-0.045},{"p":14,"s":"E","x":0.85,"y":-0.065},{"p":14,"s":"E","x":0.95,"y":-0.05},{"p":14,"s":"E","x":1,"y":0},
{"p":14,"s":"A","x":-1,"y":0},{"p":14,"s":"A","x":-0.95,"y":0.05},{"p":14,"s":"A","x":-0.85,"y":0.085},{"p":14,"s":"A","x":-0.6,"y":0.07},{"p":14,"s":"A","x":-0.3,"y":0.03},{"p":14,"s":"A","x":0,"y":0.012},{"p":14,"s":"A","x":0.3,"y":0.018},{"p":14,"s":"A","x":0.6,"y":-0.01},{"p":14,"s":"A","x":0.85,"y":-0.09},{"p":14,"s":"A","x":0.95,"y":-0.06},{"p":14,"s":"A","x":1,"y":0},

{"p":15,"s":"C","x":-1,"y":0},{"p":15,"s":"C","x":-0.95,"y":0.1},{"p":15,"s":"C","x":-0.85,"y":0.16},{"p":15,"s":"C","x":-0.6,"y":0.19},{"p":15,"s":"C","x":-0.3,"y":0.19},{"p":15,"s":"C","x":0,"y":0.18},{"p":15,"s":"C","x":0.3,"y":0.15},{"p":15,"s":"C","x":0.6,"y":0.11},{"p":15,"s":"C","x":0.85,"y":0.07},{"p":15,"s":"C","x":0.95,"y":0.03},{"p":15,"s":"C","x":1,"y":0},
{"p":15,"s":"B","x":-1,"y":0},{"p":15,"s":"B","x":-0.95,"y":0.04},{"p":15,"s":"B","x":-0.85,"y":0.07},{"p":15,"s":"B","x":-0.6,"y":0.07},{"p":15,"s":"B","x":-0.3,"y":0.04},{"p":15,"s":"B","x":0,"y":0},{"p":15,"s":"B","x":0.3,"y":-0.04},{"p":15,"s":"B","x":0.6,"y":-0.08},{"p":15,"s":"B","x":0.85,"y":-0.09},{"p":15,"s":"B","x":0.95,"y":-0.07},{"p":15,"s":"B","x":1,"y":0},
{"p":15,"s":"D","x":-1,"y":0},{"p":15,"s":"D","x":-0.95,"y":0.07},{"p":15,"s":"D","x":-0.85,"y":0.11},{"p":15,"s":"D","x":-0.6,"y":0.1},{"p":15,"s":"D","x":-0.3,"y":0.06},{"p":15,"s":"D","x":0,"y":0.02},{"p":15,"s":"D","x":0.3,"y":-0.03},{"p":15,"s":"D","x":0.6,"y":-0.055},{"p":15,"s":"D","x":0.85,"y":-0.05},{"p":15,"s":"D","x":0.95,"y":-0.03},{"p":15,"s":"D","x":1,"y":0},
{"p":15,"s":"E","x":-1,"y":0},{"p":15,"s":"E","x":-0.95,"y":0.06},{"p":15,"s":"E","x":-0.85,"y":0.08},{"p":15,"s":"E","x":-0.6,"y":0.07},{"p":15,"s":"E","x":-0.3,"y":0.04},{"p":15,"s":"E","x":0,"y":0},{"p":15,"s":"E","x":0.3,"y":-0.04},{"p":15,"s":"E","x":0.6,"y":-0.075},{"p":15,"s":"E","x":0.85,"y":-0.09},{"p":15,"s":"E","x":0.95,"y":-0.06},{"p":15,"s":"E","x":1,"y":0},
{"p":15,"s":"A","x":-1,"y":0},{"p":15,"s":"A","x":-0.95,"y":0.03},{"p":15,"s":"A","x":-0.85,"y":0.07},{"p":15,"s":"A","x":-0.6,"y":0.095},{"p":15,"s":"A","x":-0.3,"y":0.09},{"p":15,"s":"A","x":0,"y":0.07},{"p":15,"s":"A","x":0.3,"y":0.05},{"p":15,"s":"A","x":0.6,"y":0.025},{"p":15,"s":"A","x":0.85,"y":-0.01},{"p":15,"s":"A","x":0.95,"y":-0.035},{"p":15,"s":"A","x":1,"y":0},

{"p":16,"s":"C","x":-1,"y":0},{"p":16,"s":"C","x":-0.95,"y":0.18},{"p":16,"s":"C","x":-0.85,"y":0.22},{"p":16,"s":"C","x":-0.6,"y":0.235},{"p":16,"s":"C","x":-0.3,"y":0.23},{"p":16,"s":"C","x":0,"y":0.22},{"p":16,"s":"C","x":0.3,"y":0.19},{"p":16,"s":"C","x":0.6,"y":0.13},{"p":16,"s":"C","x":0.85,"y":0.07},{"p":16,"s":"C","x":0.95,"y":0.03},{"p":16,"s":"C","x":1,"y":0},
{"p":16,"s":"B","x":-1,"y":0},{"p":16,"s":"B","x":-0.95,"y":0.1},{"p":16,"s":"B","x":-0.85,"y":0.13},{"p":16,"s":"B","x":-0.6,"y":0.13},{"p":16,"s":"B","x":-0.3,"y":0.1},{"p":16,"s":"B","x":0,"y":0.05},{"p":16,"s":"B","x":0.3,"y":-0.02},{"p":16,"s":"B","x":0.6,"y":-0.09},{"p":16,"s":"B","x":0.85,"y":-0.1},{"p":16,"s":"B","x":0.95,"y":-0.06},{"p":16,"s":"B","x":1,"y":0},
{"p":16,"s":"D","x":-1,"y":0},{"p":16,"s":"D","x":-0.95,"y":0.17},{"p":16,"s":"D","x":-0.85,"y":0.19},{"p":16,"s":"D","x":-0.6,"y":0.17},{"p":16,"s":"D","x":-0.3,"y":0.13},{"p":16,"s":"D","x":0,"y":0.07},{"p":16,"s":"D","x":0.3,"y":0},{"p":16,"s":"D","x":0.6,"y":-0.06},{"p":16,"s":"D","x":0.85,"y":-0.08},{"p":16,"s":"D","x":0.95,"y":-0.05},{"p":16,"s":"D","x":1,"y":0},
{"p":16,"s":"E","x":-1,"y":0},{"p":16,"s":"E","x":-0.95,"y":0.17},{"p":16,"s":"E","x":-0.85,"y":0.18},{"p":16,"s":"E","x":-0.6,"y":0.15},{"p":16,"s":"E","x":-0.3,"y":0.1},{"p":16,"s":"E","x":0,"y":0.03},{"p":16,"s":"E","x":0.3,"y":-0.05},{"p":16,"s":"E","x":0.6,"y":-0.12},{"p":16,"s":"E","x":0.85,"y":-0.14},{"p":16,"s":"E","x":0.95,"y":-0.1},{"p":16,"s":"E","x":1,"y":0},
{"p":16,"s":"A","x":-1,"y":0},{"p":16,"s":"A","x":-0.95,"y":0.17},{"p":16,"s":"A","x":-0.85,"y":0.2},{"p":16,"s":"A","x":-0.6,"y":0.19},{"p":16,"s":"A","x":-0.3,"y":0.16},{"p":16,"s":"A","x":0,"y":0.11},{"p":16,"s":"A","x":0.3,"y":0.05},{"p":16,"s":"A","x":0.6,"y":-0.02},{"p":16,"s":"A","x":0.85,"y":0},{"p":16,"s":"A","x":0.95,"y":0.03},{"p":16,"s":"A","x":1,"y":0},

{"p":17,"s":"C","x":-1,"y":0},{"p":17,"s":"C","x":-0.95,"y":0.24},{"p":17,"s":"C","x":-0.85,"y":0.28},{"p":17,"s":"C","x":-0.6,"y":0.29},{"p":17,"s":"C","x":-0.3,"y":0.28},{"p":17,"s":"C","x":0,"y":0.25},{"p":17,"s":"C","x":0.3,"y":0.21},{"p":17,"s":"C","x":0.6,"y":0.15},{"p":17,"s":"C","x":0.85,"y":0.08},{"p":17,"s":"C","x":0.95,"y":0.03},{"p":17,"s":"C","x":1,"y":0},
{"p":17,"s":"B","x":-1,"y":0},{"p":17,"s":"B","x":-0.95,"y":0.18},{"p":17,"s":"B","x":-0.85,"y":0.21},{"p":17,"s":"B","x":-0.6,"y":0.21},{"p":17,"s":"B","x":-0.3,"y":0.18},{"p":17,"s":"B","x":0,"y":0.12},{"p":17,"s":"B","x":0.3,"y":0.05},{"p":17,"s":"B","x":0.6,"y":-0.02},{"p":17,"s":"B","x":0.85,"y":-0.06},{"p":17,"s":"B","x":0.95,"y":-0.05},{"p":17,"s":"B","x":1,"y":0},
{"p":17,"s":"D","x":-1,"y":0},{"p":17,"s":"D","x":-0.95,"y":0.24},{"p":17,"s":"D","x":-0.85,"y":0.27},{"p":17,"s":"D","x":-0.6,"y":0.26},{"p":17,"s":"D","x":-0.3,"y":0.22},{"p":17,"s":"D","x":0,"y":0.15},{"p":17,"s":"D","x":0.3,"y":0.07},{"p":17,"s":"D","x":0.6,"y":0},{"p":17,"s":"D","x":0.85,"y":-0.08},{"p":17,"s":"D","x":0.95,"y":-0.08},{"p":17,"s":"D","x":1,"y":0},
{"p":17,"s":"E","x":-1,"y":0},{"p":17,"s":"E","x":-0.95,"y":0.22},{"p":17,"s":"E","x":-0.85,"y":0.23},{"p":17,"s":"E","x":-0.6,"y":0.2},{"p":17,"s":"E","x":-0.3,"y":0.15},{"p":17,"s":"E","x":0,"y":0.08},{"p":17,"s":"E","x":0.3,"y":0},{"p":17,"s":"E","x":0.6,"y":-0.09},{"p":17,"s":"E","x":0.85,"y":-0.15},{"p":17,"s":"E","x":0.95,"y":-0.17},{"p":17,"s":"E","x":1,"y":0},
{"p":17,"s":"A","x":-1,"y":0},{"p":17,"s":"A","x":-0.95,"y":0.22},{"p":17,"s":"A","x":-0.85,"y":0.25},{"p":17,"s":"A","x":-0.6,"y":0.25},{"p":17,"s":"A","x":-0.3,"y":0.22},{"p":17,"s":"A","x":0,"y":0.17},{"p":17,"s":"A","x":0.3,"y":0.1},{"p":17,"s":"A","x":0.6,"y":0.03},{"p":17,"s":"A","x":0.85,"y":-0.02},{"p":17,"s":"A","x":0.95,"y":-0.01},{"p":17,"s":"A","x":1,"y":0},

{"p":18,"s":"C","x":-1,"y":0},{"p":18,"s":"C","x":-0.95,"y":0.3},{"p":18,"s":"C","x":-0.85,"y":0.34},{"p":18,"s":"C","x":-0.6,"y":0.34},{"p":18,"s":"C","x":-0.3,"y":0.32},{"p":18,"s":"C","x":0,"y":0.3},{"p":18,"s":"C","x":0.3,"y":0.27},{"p":18,"s":"C","x":0.6,"y":0.24},{"p":18,"s":"C","x":0.85,"y":0.2},{"p":18,"s":"C","x":0.95,"y":0.12},{"p":18,"s":"C","x":1,"y":0},
{"p":18,"s":"B","x":-1,"y":0},{"p":18,"s":"B","x":-0.95,"y":0.27},{"p":18,"s":"B","x":-0.85,"y":0.32},{"p":18,"s":"B","x":-0.6,"y":0.3},{"p":18,"s":"B","x":-0.3,"y":0.23},{"p":18,"s":"B","x":0,"y":0.14},{"p":18,"s":"B","x":0.3,"y":0.06},{"p":18,"s":"B","x":0.6,"y":0},{"p":18,"s":"B","x":0.85,"y":-0.01},{"p":18,"s":"B","x":0.95,"y":0},{"p":18,"s":"B","x":1,"y":0},
{"p":18,"s":"D","x":-1,"y":0},{"p":18,"s":"D","x":-0.95,"y":0.3},{"p":18,"s":"D","x":-0.85,"y":0.37},{"p":18,"s":"D","x":-0.6,"y":0.36},{"p":18,"s":"D","x":-0.3,"y":0.3},{"p":18,"s":"D","x":0,"y":0.22},{"p":18,"s":"D","x":0.3,"y":0.1},{"p":18,"s":"D","x":0.6,"y":0},{"p":18,"s":"D","x":0.85,"y":-0.07},{"p":18,"s":"D","x":0.95,"y":-0.05},{"p":18,"s":"D","x":1,"y":0},
{"p":18,"s":"E","x":-1,"y":0},{"p":18,"s":"E","x":-0.95,"y":0.28},{"p":18,"s":"E","x":-0.85,"y":0.31},{"p":18,"s":"E","x":-0.6,"y":0.28},{"p":18,"s":"E","x":-0.3,"y":0.2},{"p":18,"s":"E","x":0,"y":0.1},{"p":18,"s":"E","x":0.3,"y":0},{"p":18,"s":"E","x":0.6,"y":-0.12},{"p":18,"s":"E","x":0.85,"y":-0.2},{"p":18,"s":"E","x":0.95,"y":-0.23},{"p":18,"s":"E","x":1,"y":0},
{"p":18,"s":"A","x":-1,"y":0},{"p":18,"s":"A","x":-0.95,"y":0.25},{"p":18,"s":"A","x":-0.85,"y":0.32},{"p":18,"s":"A","x":-0.6,"y":0.34},{"p":18,"s":"A","x":-0.3,"y":0.28},{"p":18,"s":"A","x":0,"y":0.22},{"p":18,"s":"A","x":0.3,"y":0.17},{"p":18,"s":"A","x":0.6,"y":0.15},{"p":18,"s":"A","x":0.85,"y":0.16},{"p":18,"s":"A","x":0.95,"y":0.14},{"p":18,"s":"A","x":1,"y":0},

{"p":19,"s":"C","x":-1,"y":0},{"p":19,"s":"C","x":-0.95,"y":0.1},{"p":19,"s":"C","x":-0.85,"y":0.2},{"p":19,"s":"C","x":-0.6,"y":0.32},{"p":19,"s":"C","x":-0.3,"y":0.45},{"p":19,"s":"C","x":0,"y":0.6},{"p":19,"s":"C","x":0.3,"y":0.68},{"p":19,"s":"C","x":0.6,"y":0.7},{"p":19,"s":"C","x":0.85,"y":0.6},{"p":19,"s":"C","x":0.95,"y":0.4},{"p":19,"s":"C","x":1,"y":0},
{"p":19,"s":"B","x":-1,"y":0},{"p":19,"s":"B","x":-0.95,"y":0.35},{"p":19,"s":"B","x":-0.85,"y":0.36},{"p":19,"s":"B","x":-0.6,"y":0.32},{"p":19,"s":"B","x":-0.3,"y":0.25},{"p":19,"s":"B","x":0,"y":0.2},{"p":19,"s":"B","x":0.3,"y":0.15},{"p":19,"s":"B","x":0.6,"y":0.11},{"p":19,"s":"B","x":0.85,"y":0.08},{"p":19,"s":"B","x":0.95,"y":0.05},{"p":19,"s":"B","x":1,"y":0},
{"p":19,"s":"D","x":-1,"y":0},{"p":19,"s":"D","x":-0.95,"y":0.45},{"p":19,"s":"D","x":-0.85,"y":0.52},{"p":19,"s":"D","x":-0.6,"y":0.55},{"p":19,"s":"D","x":-0.3,"y":0.5},{"p":19,"s":"D","x":0,"y":0.38},{"p":19,"s":"D","x":0.3,"y":0.22},{"p":19,"s":"D","x":0.6,"y":0.05},{"p":19,"s":"D","x":0.85,"y":-0.1},{"p":19,"s":"D","x":0.95,"y":-0.1},{"p":19,"s":"D","x":1,"y":0},
{"p":19,"s":"E","x":-1,"y":0},{"p":19,"s":"E","x":-0.95,"y":0.35},{"p":19,"s":"E","x":-0.85,"y":0.38},{"p":19,"s":"E","x":-0.6,"y":0.4},{"p":19,"s":"E","x":-0.3,"y":0.38},{"p":19,"s":"E","x":0,"y":0.33},{"p":19,"s":"E","x":0.3,"y":0.2},{"p":19,"s":"E","x":0.6,"y":0},{"p":19,"s":"E","x":0.85,"y":-0.2},{"p":19,"s":"E","x":0.95,"y":-0.33},{"p":19,"s":"E","x":1,"y":0},
{"p":19,"s":"A","x":-1,"y":0},{"p":19,"s":"A","x":-0.95,"y":0.35},{"p":19,"s":"A","x":-0.85,"y":0.38},{"p":19,"s":"A","x":-0.6,"y":0.4},{"p":19,"s":"A","x":-0.3,"y":0.4},{"p":19,"s":"A","x":0,"y":0.39},{"p":19,"s":"A","x":0.3,"y":0.33},{"p":19,"s":"A","x":0.6,"y":0.22},{"p":19,"s":"A","x":0.85,"y":0.12},{"p":19,"s":"A","x":0.95,"y":0.05},{"p":19,"s":"A","x":1,"y":0},

{"p":20,"s":"C","x":-1,"y":0},{"p":20,"s":"C","x":-0.95,"y":-0.05},{"p":20,"s":"C","x":-0.85,"y":-0.11},{"p":20,"s":"C","x":-0.6,"y":0},{"p":20,"s":"C","x":-0.3,"y":0.25},{"p":20,"s":"C","x":0,"y":0.45},{"p":20,"s":"C","x":0.3,"y":0.62},{"p":20,"s":"C","x":0.6,"y":0.58},{"p":20,"s":"C","x":0.85,"y":0.35},{"p":20,"s":"C","x":0.95,"y":0.15},{"p":20,"s":"C","x":1,"y":0},
{"p":20,"s":"B","x":-1,"y":0},{"p":20,"s":"B","x":-0.95,"y":0.28},{"p":20,"s":"B","x":-0.85,"y":0.25},{"p":20,"s":"B","x":-0.6,"y":0.2},{"p":20,"s":"B","x":-0.3,"y":0.14},{"p":20,"s":"B","x":0,"y":0.1},{"p":20,"s":"B","x":0.3,"y":0.09},{"p":20,"s":"B","x":0.6,"y":0.09},{"p":20,"s":"B","x":0.85,"y":0.15},{"p":20,"s":"B","x":0.95,"y":0.25},{"p":20,"s":"B","x":1,"y":0},
{"p":20,"s":"D","x":-1,"y":0},{"p":20,"s":"D","x":-0.95,"y":0.45},{"p":20,"s":"D","x":-0.85,"y":0.53},{"p":20,"s":"D","x":-0.6,"y":0.55},{"p":20,"s":"D","x":-0.3,"y":0.5},{"p":20,"s":"D","x":0,"y":0.4},{"p":20,"s":"D","x":0.3,"y":0.25},{"p":20,"s":"D","x":0.6,"y":0.1},{"p":20,"s":"D","x":0.85,"y":-0.25},{"p":20,"s":"D","x":0.95,"y":-0.38},{"p":20,"s":"D","x":1,"y":0},
{"p":20,"s":"E","x":-1,"y":0},{"p":20,"s":"E","x":-0.95,"y":0.4},{"p":20,"s":"E","x":-0.85,"y":0.42},{"p":20,"s":"E","x":-0.6,"y":0.43},{"p":20,"s":"E","x":-0.3,"y":0.43},{"p":20,"s":"E","x":0,"y":0.4},{"p":20,"s":"E","x":0.3,"y":0.3},{"p":20,"s":"E","x":0.6,"y":0.1},{"p":20,"s":"E","x":0.85,"y":-0.3},{"p":20,"s":"E","x":0.95,"y":-0.5},{"p":20,"s":"E","x":1,"y":0},
{"p":20,"s":"A","x":-1,"y":0},{"p":20,"s":"A","x":-0.95,"y":0.35},{"p":20,"s":"A","x":-0.85,"y":0.42},{"p":20,"s":"A","x":-0.6,"y":0.43},{"p":20,"s":"A","x":-0.3,"y":0.43},{"p":20,"s":"A","x":0,"y":0.43},{"p":20,"s":"A","x":0.3,"y":0.42},{"p":20,"s":"A","x":0.6,"y":0.38},{"p":20,"s":"A","x":0.85,"y":0.25},{"p":20,"s":"A","x":0.95,"y":0.1},{"p":20,"s":"A","x":1,"y":0},

{"p":21,"s":"C","x":-1,"y":0},{"p":21,"s":"C","x":-0.95,"y":0.1},{"p":21,"s":"C","x":-0.85,"y":0.3},{"p":21,"s":"C","x":-0.6,"y":0.5},{"p":21,"s":"C","x":-0.3,"y":0.63},{"p":21,"s":"C","x":0,"y":0.63},{"p":21,"s":"C","x":0.3,"y":0.5},{"p":21,"s":"C","x":0.6,"y":0.2},{"p":21,"s":"C","x":0.85,"y":-0.2},{"p":21,"s":"C","x":0.95,"y":-0.6},{"p":21,"s":"C","x":1,"y":0},
{"p":21,"s":"B","x":-1,"y":0},{"p":21,"s":"B","x":-0.95,"y":-0.05},{"p":21,"s":"B","x":-0.85,"y":-0.12},{"p":21,"s":"B","x":-0.6,"y":-0.17},{"p":21,"s":"B","x":-0.3,"y":-0.16},{"p":21,"s":"B","x":0,"y":-0.15},{"p":21,"s":"B","x":0.3,"y":-0.12},{"p":21,"s":"B","x":0.6,"y":-0.05},{"p":21,"s":"B","x":0.85,"y":0.1},{"p":21,"s":"B","x":0.95,"y":0.22},{"p":21,"s":"B","x":1,"y":0},
{"p":21,"s":"D","x":-1,"y":0},{"p":21,"s":"D","x":-0.95,"y":0.2},{"p":21,"s":"D","x":-0.85,"y":0.35},{"p":21,"s":"D","x":-0.6,"y":0.43},{"p":21,"s":"D","x":-0.3,"y":0.42},{"p":21,"s":"D","x":0,"y":0.35},{"p":21,"s":"D","x":0.3,"y":0.2},{"p":21,"s":"D","x":0.6,"y":0.05},{"p":21,"s":"D","x":0.85,"y":-0.1},{"p":21,"s":"D","x":0.95,"y":-0.25},{"p":21,"s":"D","x":1,"y":0},
{"p":21,"s":"E","x":-1,"y":0},{"p":21,"s":"E","x":-0.95,"y":0.15},{"p":21,"s":"E","x":-0.85,"y":0.3},{"p":21,"s":"E","x":-0.6,"y":0.42},{"p":21,"s":"E","x":-0.3,"y":0.4},{"p":21,"s":"E","x":0,"y":0.3},{"p":21,"s":"E","x":0.3,"y":0.15},{"p":21,"s":"E","x":0.6,"y":-0.05},{"p":21,"s":"E","x":0.85,"y":-0.2},{"p":21,"s":"E","x":0.95,"y":-0.38},{"p":21,"s":"E","x":1,"y":0},
{"p":21,"s":"A","x":-1,"y":0},{"p":21,"s":"A","x":-0.95,"y":0.15},{"p":21,"s":"A","x":-0.85,"y":0.35},{"p":21,"s":"A","x":-0.6,"y":0.5},{"p":21,"s":"A","x":-0.3,"y":0.53},{"p":21,"s":"A","x":0,"y":0.47},{"p":21,"s":"A","x":0.3,"y":0.35},{"p":21,"s":"A","x":0.6,"y":0.2},{"p":21,"s":"A","x":0.85,"y":0.13},{"p":21,"s":"A","x":0.95,"y":0.15},{"p":21,"s":"A","x":1,"y":0},

{"p":22,"s":"C","x":-1,"y":0},{"p":22,"s":"C","x":-0.95,"y":0.2},{"p":22,"s":"C","x":-0.85,"y":0.45},{"p":22,"s":"C","x":-0.6,"y":0.62},{"p":22,"s":"C","x":-0.3,"y":0.67},{"p":22,"s":"C","x":0,"y":0.62},{"p":22,"s":"C","x":0.3,"y":0.4},{"p":22,"s":"C","x":0.6,"y":-0.1},{"p":22,"s":"C","x":0.85,"y":-0.65},{"p":22,"s":"C","x":0.95,"y":-0.85},{"p":22,"s":"C","x":1,"y":0},
{"p":22,"s":"B","x":-1,"y":0},{"p":22,"s":"B","x":-0.95,"y":-0.15},{"p":22,"s":"B","x":-0.85,"y":-0.3},{"p":22,"s":"B","x":-0.6,"y":-0.39},{"p":22,"s":"B","x":-0.3,"y":-0.35},{"p":22,"s":"B","x":0,"y":-0.27},{"p":22,"s":"B","x":0.3,"y":-0.12},{"p":22,"s":"B","x":0.6,"y":0},{"p":22,"s":"B","x":0.85,"y":0.2},{"p":22,"s":"B","x":0.95,"y":0.25},{"p":22,"s":"B","x":1,"y":0},
{"p":22,"s":"D","x":-1,"y":0},{"p":22,"s":"D","x":-0.95,"y":0.27},{"p":22,"s":"D","x":-0.85,"y":0.42},{"p":22,"s":"D","x":-0.6,"y":0.46},{"p":22,"s":"D","x":-0.3,"y":0.4},{"p":22,"s":"D","x":0,"y":0.3},{"p":22,"s":"D","x":0.3,"y":0.18},{"p":22,"s":"D","x":0.6,"y":-0.1},{"p":22,"s":"D","x":0.85,"y":-0.22},{"p":22,"s":"D","x":0.95,"y":-0.22},{"p":22,"s":"D","x":1,"y":0},
{"p":22,"s":"E","x":-1,"y":0},{"p":22,"s":"E","x":-0.95,"y":0.05},{"p":22,"s":"E","x":-0.85,"y":0.1},{"p":22,"s":"E","x":-0.6,"y":0.18},{"p":22,"s":"E","x":-0.3,"y":0.24},{"p":22,"s":"E","x":0,"y":0.25},{"p":22,"s":"E","x":0.3,"y":0.15},{"p":22,"s":"E","x":0.6,"y":-0.05},{"p":22,"s":"E","x":0.85,"y":-0.3},{"p":22,"s":"E","x":0.95,"y":-0.38},{"p":22,"s":"E","x":1,"y":0},
{"p":22,"s":"A","x":-1,"y":0},{"p":22,"s":"A","x":-0.95,"y":0.22},{"p":22,"s":"A","x":-0.85,"y":0.3},{"p":22,"s":"A","x":-0.6,"y":0.36},{"p":22,"s":"A","x":-0.3,"y":0.41},{"p":22,"s":"A","x":0,"y":0.44},{"p":22,"s":"A","x":0.3,"y":0.33},{"p":22,"s":"A","x":0.6,"y":0.1},{"p":22,"s":"A","x":0.85,"y":-0.02},{"p":22,"s":"A","x":0.95,"y":-0.04},{"p":22,"s":"A","x":1,"y":0},

{"p":23,"s":"C","x":-1,"y":0},{"p":23,"s":"C","x":-0.95,"y":0.5},{"p":23,"s":"C","x":-0.85,"y":0.75},{"p":23,"s":"C","x":-0.6,"y":0.87},{"p":23,"s":"C","x":-0.3,"y":0.78},{"p":23,"s":"C","x":0,"y":0.55},{"p":23,"s":"C","x":0.3,"y":0.2},{"p":23,"s":"C","x":0.6,"y":-0.3},{"p":23,"s":"C","x":0.85,"y":-0.75},{"p":23,"s":"C","x":0.95,"y":-0.85},{"p":23,"s":"C","x":1,"y":0},
{"p":23,"s":"B","x":-1,"y":0},{"p":23,"s":"B","x":-0.95,"y":-0.25},{"p":23,"s":"B","x":-0.85,"y":-0.3},{"p":23,"s":"B","x":-0.6,"y":-0.3},{"p":23,"s":"B","x":-0.3,"y":-0.28},{"p":23,"s":"B","x":0,"y":-0.22},{"p":23,"s":"B","x":0.3,"y":-0.15},{"p":23,"s":"B","x":0.6,"y":-0.08},{"p":23,"s":"B","x":0.85,"y":0.1},{"p":23,"s":"B","x":0.95,"y":0.3},{"p":23,"s":"B","x":1,"y":0},
{"p":23,"s":"D","x":-1,"y":0},{"p":23,"s":"D","x":-0.95,"y":0.15},{"p":23,"s":"D","x":-0.85,"y":0.3},{"p":23,"s":"D","x":-0.6,"y":0.42},{"p":23,"s":"D","x":-0.3,"y":0.44},{"p":23,"s":"D","x":0,"y":0.4},{"p":23,"s":"D","x":0.3,"y":0.3},{"p":23,"s":"D","x":0.6,"y":0.1},{"p":23,"s":"D","x":0.85,"y":-0.08},{"p":23,"s":"D","x":0.95,"y":-0.18},{"p":23,"s":"D","x":1,"y":0},
{"p":23,"s":"E","x":-1,"y":0},{"p":23,"s":"E","x":-0.95,"y":-0.2},{"p":23,"s":"E","x":-0.85,"y":-0.3},{"p":23,"s":"E","x":-0.6,"y":-0.28},{"p":23,"s":"E","x":-0.3,"y":-0.15},{"p":23,"s":"E","x":0,"y":-0.08},{"p":23,"s":"E","x":0.3,"y":-0.05},{"p":23,"s":"E","x":0.6,"y":-0.12},{"p":23,"s":"E","x":0.85,"y":-0.25},{"p":23,"s":"E","x":0.95,"y":-0.3},{"p":23,"s":"E","x":1,"y":0},
{"p":23,"s":"A","x":-1,"y":0},{"p":23,"s":"A","x":-0.95,"y":0.37},{"p":23,"s":"A","x":-0.85,"y":0.36},{"p":23,"s":"A","x":-0.6,"y":0.33},{"p":23,"s":"A","x":-0.3,"y":0.4},{"p":23,"s":"A","x":0,"y":0.4},{"p":23,"s":"A","x":0.3,"y":0.33},{"p":23,"s":"A","x":0.6,"y":0.15},{"p":23,"s":"A","x":0.85,"y":-0.04},{"p":23,"s":"A","x":0.95,"y":-0.1},{"p":23,"s":"A","x":1,"y":0},

{"p":24,"s":"C","x":-1,"y":0},{"p":24,"s":"C","x":-0.95,"y":0.2},{"p":24,"s":"C","x":-0.85,"y":0.6},{"p":24,"s":"C","x":-0.6,"y":0.85},{"p":24,"s":"C","x":-0.3,"y":0.82},{"p":24,"s":"C","x":0,"y":0.6},{"p":24,"s":"C","x":0.3,"y":0.2},{"p":24,"s":"C","x":0.6,"y":-0.35},{"p":24,"s":"C","x":0.85,"y":-0.75},{"p":24,"s":"C","x":0.95,"y":-0.85},{"p":24,"s":"C","x":1,"y":0},
{"p":24,"s":"B","x":-1,"y":0},{"p":24,"s":"B","x":-0.95,"y":-0.1},{"p":24,"s":"B","x":-0.85,"y":-0.15},{"p":24,"s":"B","x":-0.6,"y":-0.18},{"p":24,"s":"B","x":-0.3,"y":-0.17},{"p":24,"s":"B","x":0,"y":-0.12},{"p":24,"s":"B","x":0.3,"y":-0.05},{"p":24,"s":"B","x":0.6,"y":0.05},{"p":24,"s":"B","x":0.85,"y":0.25},{"p":24,"s":"B","x":0.95,"y":0.45},{"p":24,"s":"B","x":1,"y":0},
{"p":24,"s":"D","x":-1,"y":0},{"p":24,"s":"D","x":-0.95,"y":0.15},{"p":24,"s":"D","x":-0.85,"y":0.3},{"p":24,"s":"D","x":-0.6,"y":0.5},{"p":24,"s":"D","x":-0.3,"y":0.5},{"p":24,"s":"D","x":0,"y":0.45},{"p":24,"s":"D","x":0.3,"y":0.3},{"p":24,"s":"D","x":0.6,"y":0.1},{"p":24,"s":"D","x":0.85,"y":-0.1},{"p":24,"s":"D","x":0.95,"y":-0.2},{"p":24,"s":"D","x":1,"y":0},
{"p":24,"s":"E","x":-1,"y":0},{"p":24,"s":"E","x":-0.95,"y":-0.45},{"p":24,"s":"E","x":-0.85,"y":-0.52},{"p":24,"s":"E","x":-0.6,"y":-0.45},{"p":24,"s":"E","x":-0.3,"y":-0.3},{"p":24,"s":"E","x":0,"y":-0.2},{"p":24,"s":"E","x":0.3,"y":-0.15},{"p":24,"s":"E","x":0.6,"y":-0.25},{"p":24,"s":"E","x":0.85,"y":-0.33},{"p":24,"s":"E","x":0.95,"y":-0.35},{"p":24,"s":"E","x":1,"y":0},
{"p":24,"s":"A","x":-1,"y":0},{"p":24,"s":"A","x":-0.95,"y":-0.1},{"p":24,"s":"A","x":-0.85,"y":0.15},{"p":24,"s":"A","x":-0.6,"y":0.45},{"p":24,"s":"A","x":-0.3,"y":0.52},{"p":24,"s":"A","x":0,"y":0.48},{"p":24,"s":"A","x":0.3,"y":0.38},{"p":24,"s":"A","x":0.6,"y":0.2},{"p":24,"s":"A","x":0.85,"y":0},{"p":24,"s":"A","x":0.95,"y":-0.12},{"p":24,"s":"A","x":1,"y":0},

{"p":1,"t":"m","x":-0.79,"y":-0.06,"e":0.05},{"p":1,"t":"m","x":-0.48,"y":-0.085,"e":0.04},{"p":1,"t":"m","x":-0.17,"y":-0.06,"e":0.035},{"p":1,"t":"m","x":0.17,"y":0.11,"e":0.06},{"p":1,"t":"m","x":0.52,"y":0.19,"e":0.1},{"p":1,"t":"m","x":0.52,"y":0.1,"e":0.05},{"p":1,"t":"m","x":0.83,"y":0.11,"e":0.07},
{"p":2,"t":"m","x":-0.79,"y":-0.042,"e":0.035},{"p":2,"t":"m","x":-0.46,"y":0.034,"e":0.04},{"p":2,"t":"m","x":-0.16,"y":-0.014,"e":0.047},{"p":2,"t":"m","x":0.18,"y":0.014,"e":0.05},{"p":2,"t":"m","x":0.52,"y":0.136,"e":0.06},{"p":2,"t":"m","x":0.84,"y":0.06,"e":0.07},
{"p":3,"t":"m","x":-0.78,"y":-0.025,"e":0.035},{"p":3,"t":"m","x":-0.46,"y":-0.025,"e":0.03},{"p":3,"t":"m","x":-0.16,"y":0.068,"e":0.035},{"p":3,"t":"m","x":0.17,"y":-0.034,"e":0.04},{"p":3,"t":"m","x":0.84,"y":0.054,"e":0.07},
{"p":4,"t":"m","x":-0.79,"y":0.06,"e":0.03},{"p":4,"t":"m","x":-0.5,"y":0.075,"e":0.03},{"p":4,"t":"m","x":-0.17,"y":0.06,"e":0.03},{"p":4,"t":"m","x":0.16,"y":0.14,"e":0.04},{"p":4,"t":"m","x":0.49,"y":0.02,"e":0.04},{"p":4,"t":"m","x":0.82,"y":-0.028,"e":0.045},
{"p":5,"t":"m","x":-0.8,"y":0.07,"e":0.04},{"p":5,"t":"m","x":-0.47,"y":0.083,"e":0.05},{"p":5,"t":"m","x":-0.14,"y":0.06,"e":0.04},{"p":5,"t":"m","x":0.19,"y":0.22,"e":0.05},{"p":5,"t":"m","x":0.53,"y":0.01,"e":0.1},{"p":5,"t":"m","x":0.85,"y":0.15,"e":0.2},{"p":5,"t":"m","x":0.85,"y":0.03,"e":0.06},
{"p":6,"t":"m","x":-0.78,"y":0.083,"e":0.03},{"p":6,"t":"m","x":-0.46,"y":0.14,"e":0.05},{"p":6,"t":"m","x":-0.16,"y":0.05,"e":0.04},{"p":6,"t":"m","x":0.16,"y":0.1,"e":0.12},
{"p":8,"t":"m","x":-0.78,"y":0.08,"e":0.03},{"p":8,"t":"m","x":-0.47,"y":0.14,"e":0.04},
{"p":10,"t":"m","x":-0.79,"y":0.16,"e":0.05},{"p":10,"t":"m","x":-0.47,"y":0.08,"e":0.05},

{"p":1,"t":"b","x":-0.9,"y":0.012,"e":0.018},{"p":1,"t":"b","x":-0.76,"y":0.014,"e":0.018},{"p":1,"t":"b","x":-0.39,"y":0.047,"e":0.018},{"p":1,"t":"b","x":-0.24,"y":0.037,"e":0.018},{"p":1,"t":"b","x":-0.06,"y":0.076,"e":0.018},{"p":1,"t":"b","x":0.13,"y":0.02,"e":0.018},{"p":1,"t":"b","x":0.25,"y":0.054,"e":0.018},{"p":1,"t":"b","x":0.42,"y":0.037,"e":0.018},{"p":1,"t":"b","x":0.61,"y":0.025,"e":0.018},{"p":1,"t":"b","x":0.74,"y":0.025,"e":0.018},{"p":1,"t":"b","x":0.9,"y":0.003,"e":0.025},
{"p":2,"t":"b","x":-0.92,"y":-0.008,"e":0.018},{"p":2,"t":"b","x":-0.41,"y":0.093,"e":0.015},{"p":2,"t":"b","x":-0.22,"y":0.102,"e":0.015},{"p":2,"t":"b","x":-0.04,"y":0.098,"e":0.015},{"p":2,"t":"b","x":0.11,"y":0.093,"e":0.015},{"p":2,"t":"b","x":0.25,"y":0.088,"e":0.015},{"p":2,"t":"b","x":0.44,"y":0.085,"e":0.015},{"p":2,"t":"b","x":0.58,"y":0.093,"e":0.015},{"p":2,"t":"b","x":0.77,"y":0.088,"e":0.018},{"p":2,"t":"b","x":0.9,"y":0.05,"e":0.02},
{"p":3,"t":"b","x":-0.86,"y":0.088,"e":0.02},{"p":3,"t":"b","x":-0.68,"y":0.12,"e":0.02},{"p":3,"t":"b","x":-0.39,"y":0.178,"e":0.02},{"p":3,"t":"b","x":-0.21,"y":0.135,"e":0.02},{"p":3,"t":"b","x":-0.07,"y":0.166,"e":0.02},{"p":3,"t":"b","x":0.12,"y":0.144,"e":0.02},{"p":3,"t":"b","x":0.26,"y":0.14,"e":0.02},{"p":3,"t":"b","x":0.57,"y":0.105,"e":0.02},{"p":3,"t":"b","x":0.73,"y":0.085,"e":0.02},{"p":3,"t":"b","x":0.9,"y":-0.034,"e":0.02},
{"p":4,"t":"b","x":-0.75,"y":0.175,"e":0.025},{"p":4,"t":"b","x":-0.57,"y":0.214,"e":0.025},{"p":4,"t":"b","x":-0.4,"y":0.208,"e":0.025},{"p":4,"t":"b","x":-0.24,"y":0.1,"e":0.025},{"p":4,"t":"b","x":-0.06,"y":0.11,"e":0.025},{"p":4,"t":"b","x":0.2,"y":0.1,"e":0.025},{"p":4,"t":"b","x":0.38,"y":0.075,"e":0.025},{"p":4,"t":"b","x":0.56,"y":-0.01,"e":0.025},{"p":4,"t":"b","x":0.71,"y":0.064,"e":0.025},{"p":4,"t":"b","x":0.89,"y":0.042,"e":0.025},
{"p":5,"t":"b","x":-0.92,"y":0.1,"e":0.025},{"p":5,"t":"b","x":-0.72,"y":0.214,"e":0.025},{"p":5,"t":"b","x":-0.57,"y":0.228,"e":0.025},{"p":5,"t":"b","x":-0.42,"y":0.214,"e":0.025},{"p":5,"t":"b","x":-0.27,"y":0.208,"e":0.025},{"p":5,"t":"b","x":-0.07,"y":0.2,"e":0.025},{"p":5,"t":"b","x":0.12,"y":0.19,"e":0.025},{"p":5,"t":"b","x":0.3,"y":0.167,"e":0.025},{"p":5,"t":"b","x":0.49,"y":0.15,"e":0.025},{"p":5,"t":"b","x":0.67,"y":0.15,"e":0.03},{"p":5,"t":"b","x":0.86,"y":0.125,"e":0.035},
{"p":6,"t":"b","x":-0.78,"y":0.186,"e":0.03},{"p":6,"t":"b","x":-0.57,"y":0.26,"e":0.03},{"p":6,"t":"b","x":-0.39,"y":0.236,"e":0.03},{"p":6,"t":"b","x":-0.23,"y":0.18,"e":0.03},{"p":6,"t":"b","x":-0.07,"y":0.167,"e":0.03},{"p":6,"t":"b","x":0.11,"y":0.125,"e":0.03},{"p":6,"t":"b","x":0.29,"y":0.125,"e":0.03},{"p":6,"t":"b","x":0.54,"y":0.167,"e":0.035},{"p":6,"t":"b","x":0.71,"y":0.147,"e":0.035},{"p":6,"t":"b","x":0.86,"y":0.25,"e":0.05},
{"p":7,"t":"b","x":-0.9,"y":0.15,"e":0.04},{"p":7,"t":"b","x":-0.72,"y":0.22,"e":0.04},{"p":7,"t":"b","x":-0.55,"y":0.29,"e":0.04},{"p":7,"t":"b","x":-0.38,"y":0.25,"e":0.04},{"p":7,"t":"b","x":-0.22,"y":0.22,"e":0.04},{"p":7,"t":"b","x":0.05,"y":0.17,"e":0.04},{"p":7,"t":"b","x":0.24,"y":0.16,"e":0.04},{"p":7,"t":"b","x":0.42,"y":0.21,"e":0.05},{"p":7,"t":"b","x":0.6,"y":0.18,"e":0.05},{"p":7,"t":"b","x":0.75,"y":0.17,"e":0.05},{"p":7,"t":"b","x":0.9,"y":0.28,"e":0.07},
{"p":8,"t":"b","x":-0.88,"y":0.17,"e":0.05},{"p":8,"t":"b","x":-0.73,"y":0.37,"e":0.05},{"p":8,"t":"b","x":-0.55,"y":0.28,"e":0.05},{"p":8,"t":"b","x":-0.39,"y":0.29,"e":0.05},{"p":8,"t":"b","x":-0.22,"y":0.29,"e":0.05},{"p":8,"t":"b","x":-0.05,"y":0.26,"e":0.05},{"p":8,"t":"b","x":0.12,"y":0.28,"e":0.05},{"p":8,"t":"b","x":0.3,"y":0.26,"e":0.05},{"p":8,"t":"b","x":0.45,"y":0.26,"e":0.05},{"p":8,"t":"b","x":0.62,"y":0.25,"e":0.05},{"p":8,"t":"b","x":0.78,"y":0.23,"e":0.06},{"p":8,"t":"b","x":0.93,"y":0.06,"e":0.08},
{"p":9,"t":"b","x":-0.87,"y":0.28,"e":0.05},{"p":9,"t":"b","x":-0.69,"y":0.32,"e":0.05},{"p":9,"t":"b","x":-0.54,"y":0.29,"e":0.05},{"p":9,"t":"b","x":-0.4,"y":0.28,"e":0.05},{"p":9,"t":"b","x":-0.26,"y":0.24,"e":0.05},{"p":9,"t":"b","x":0.06,"y":0.33,"e":0.05},{"p":9,"t":"b","x":0.24,"y":0.36,"e":0.05},{"p":9,"t":"b","x":0.39,"y":0.4,"e":0.05},{"p":9,"t":"b","x":0.55,"y":0.44,"e":0.06},{"p":9,"t":"b","x":0.71,"y":0.36,"e":0.06},{"p":9,"t":"b","x":0.89,"y":0.12,"e":0.07},
{"p":10,"t":"b","x":-0.88,"y":0.14,"e":0.06},{"p":10,"t":"b","x":-0.72,"y":0.32,"e":0.06},{"p":10,"t":"b","x":-0.53,"y":0.49,"e":0.06},{"p":10,"t":"b","x":-0.39,"y":0.46,"e":0.06},{"p":10,"t":"b","x":-0.2,"y":0.4,"e":0.06},{"p":10,"t":"b","x":-0.06,"y":0.41,"e":0.06},{"p":10,"t":"b","x":0.11,"y":0.43,"e":0.06},{"p":10,"t":"b","x":0.26,"y":0.49,"e":0.06},{"p":10,"t":"b","x":0.42,"y":0.4,"e":0.06},{"p":10,"t":"b","x":0.56,"y":0.36,"e":0.06},{"p":10,"t":"b","x":0.71,"y":0.4,"e":0.06},{"p":10,"t":"b","x":0.89,"y":0.33,"e":0.06},
{"p":11,"t":"b","x":-0.88,"y":0.17,"e":0.06},{"p":11,"t":"b","x":-0.73,"y":0.27,"e":0.06},{"p":11,"t":"b","x":-0.56,"y":0.33,"e":0.06},{"p":11,"t":"b","x":-0.38,"y":0.54,"e":0.07},{"p":11,"t":"b","x":-0.21,"y":0.43,"e":0.06},{"p":11,"t":"b","x":-0.04,"y":0.49,"e":0.06},{"p":11,"t":"b","x":0.12,"y":0.49,"e":0.06},{"p":11,"t":"b","x":0.28,"y":0.27,"e":0.06},{"p":11,"t":"b","x":0.45,"y":0.34,"e":0.06},{"p":11,"t":"b","x":0.62,"y":0.33,"e":0.06},{"p":11,"t":"b","x":0.78,"y":0.33,"e":0.06},{"p":11,"t":"b","x":0.93,"y":0.33,"e":0.07},
{"p":12,"t":"b","x":-0.88,"y":-0.05,"e":0.07},{"p":12,"t":"b","x":-0.71,"y":0.43,"e":0.07},{"p":12,"t":"b","x":-0.55,"y":0.27,"e":0.07},{"p":12,"t":"b","x":-0.38,"y":0.33,"e":0.07},{"p":12,"t":"b","x":-0.24,"y":0.4,"e":0.07},{"p":12,"t":"b","x":-0.07,"y":0.2,"e":0.06},{"p":12,"t":"b","x":0.07,"y":0.2,"e":0.06},{"p":12,"t":"b","x":0.23,"y":0.2,"e":0.06},{"p":12,"t":"b","x":0.39,"y":0.3,"e":0.06},{"p":12,"t":"b","x":0.56,"y":0.27,"e":0.06},{"p":12,"t":"b","x":0.71,"y":0.27,"e":0.06},{"p":12,"t":"b","x":0.87,"y":-0.02,"e":0.07},
{"p":13,"t":"b","x":-0.88,"y":0.062,"e":0.04},{"p":13,"t":"b","x":-0.72,"y":-0.039,"e":0.035},{"p":13,"t":"b","x":-0.55,"y":-0.03,"e":0.035},{"p":13,"t":"b","x":-0.4,"y":-0.032,"e":0.035},{"p":13,"t":"b","x":-0.24,"y":0.052,"e":0.035},{"p":13,"t":"b","x":-0.08,"y":-0.035,"e":0.035},{"p":13,"t":"b","x":0.09,"y":0.041,"e":0.035},{"p":13,"t":"b","x":0.25,"y":0.028,"e":0.035},{"p":13,"t":"b","x":0.42,"y":-0.072,"e":0.035},{"p":13,"t":"b","x":0.58,"y":-0.048,"e":0.035},{"p":13,"t":"b","x":0.72,"y":-0.086,"e":0.04},{"p":13,"t":"b","x":0.89,"y":0.007,"e":0.04},
{"p":14,"t":"b","x":-0.85,"y":0.055,"e":0.035},{"p":14,"t":"b","x":-0.74,"y":0.09,"e":0.035},{"p":14,"t":"b","x":-0.55,"y":0.02,"e":0.035},{"p":14,"t":"b","x":-0.41,"y":0.014,"e":0.035},{"p":14,"t":"b","x":-0.22,"y":0.097,"e":0.035},{"p":14,"t":"b","x":-0.08,"y":-0.007,"e":0.035},{"p":14,"t":"b","x":0.07,"y":-0.062,"e":0.035},{"p":14,"t":"b","x":0.25,"y":0.034,"e":0.035},{"p":14,"t":"b","x":0.41,"y":-0.007,"e":0.035},{"p":14,"t":"b","x":0.58,"y":0.048,"e":0.04},{"p":14,"t":"b","x":0.73,"y":-0.09,"e":0.04},{"p":14,"t":"b","x":0.91,"y":-0.097,"e":0.04},
{"p":15,"t":"b","x":-0.87,"y":0.014,"e":0.035},{"p":15,"t":"b","x":-0.71,"y":0.09,"e":0.035},{"p":15,"t":"b","x":-0.57,"y":0.1,"e":0.035},{"p":15,"t":"b","x":-0.39,"y":0.094,"e":0.035},{"p":15,"t":"b","x":-0.23,"y":0.044,"e":0.035},{"p":15,"t":"b","x":-0.07,"y":0.097,"e":0.04},{"p":15,"t":"b","x":0.07,"y":0.113,"e":0.04},{"p":15,"t":"b","x":0.25,"y":0.041,"e":0.04},{"p":15,"t":"b","x":0.39,"y":0.041,"e":0.04},{"p":15,"t":"b","x":0.56,"y":0.041,"e":0.04},{"p":15,"t":"b","x":0.71,"y":-0.052,"e":0.04},{"p":15,"t":"b","x":0.86,"y":0,"e":0.04},
{"p":16,"t":"b","x":-0.87,"y":0.18,"e":0.03},{"p":16,"t":"b","x":-0.72,"y":0.2,"e":0.03},{"p":16,"t":"b","x":-0.54,"y":0.18,"e":0.03},{"p":16,"t":"b","x":-0.39,"y":0.14,"e":0.03},{"p":16,"t":"b","x":-0.22,"y":0.15,"e":0.03},{"p":16,"t":"b","x":-0.06,"y":0.16,"e":0.03},{"p":16,"t":"b","x":0.09,"y":0.11,"e":0.03},{"p":16,"t":"b","x":0.25,"y":0.08,"e":0.03},{"p":16,"t":"b","x":0.42,"y":0.04,"e":0.03},{"p":16,"t":"b","x":0.59,"y":-0.025,"e":0.03},{"p":16,"t":"b","x":0.75,"y":0.08,"e":0.03},{"p":16,"t":"b","x":0.9,"y":0.006,"e":0.03},
{"p":17,"t":"b","x":-0.88,"y":0.23,"e":0.03},{"p":17,"t":"b","x":-0.74,"y":0.24,"e":0.03},{"p":17,"t":"b","x":-0.55,"y":0.23,"e":0.03},{"p":17,"t":"b","x":-0.38,"y":0.23,"e":0.03},{"p":17,"t":"b","x":-0.22,"y":0.21,"e":0.03},{"p":17,"t":"b","x":-0.06,"y":0.18,"e":0.03},{"p":17,"t":"b","x":0.11,"y":0.15,"e":0.03},{"p":17,"t":"b","x":0.25,"y":0.085,"e":0.03},{"p":17,"t":"b","x":0.42,"y":0.053,"e":0.03},{"p":17,"t":"b","x":0.58,"y":-0.025,"e":0.03},{"p":17,"t":"b","x":0.74,"y":0,"e":0.03},{"p":17,"t":"b","x":0.91,"y":0.006,"e":0.03},
{"p":18,"t":"b","x":-0.86,"y":0.29,"e":0.035},{"p":18,"t":"b","x":-0.72,"y":0.3,"e":0.035},{"p":18,"t":"b","x":-0.57,"y":0.38,"e":0.035},{"p":18,"t":"b","x":-0.39,"y":0.29,"e":0.035},{"p":18,"t":"b","x":-0.25,"y":0.23,"e":0.035},{"p":18,"t":"b","x":-0.07,"y":0.22,"e":0.035},{"p":18,"t":"b","x":0.07,"y":0.25,"e":0.035},{"p":18,"t":"b","x":0.26,"y":0.085,"e":0.035},{"p":18,"t":"b","x":0.42,"y":0.15,"e":0.04},{"p":18,"t":"b","x":0.58,"y":0.16,"e":0.04},{"p":18,"t":"b","x":0.75,"y":0.21,"e":0.06},{"p":18,"t":"b","x":0.91,"y":0.15,"e":0.06},
{"p":19,"t":"b","x":-0.9,"y":0.38,"e":0.05},{"p":19,"t":"b","x":-0.73,"y":0.36,"e":0.05},{"p":19,"t":"b","x":-0.55,"y":0.44,"e":0.06},{"p":19,"t":"b","x":-0.4,"y":0.42,"e":0.06},{"p":19,"t":"b","x":-0.24,"y":0.41,"e":0.06},{"p":19,"t":"b","x":-0.08,"y":0.4,"e":0.06},{"p":19,"t":"b","x":0.09,"y":0.41,"e":0.06},{"p":19,"t":"b","x":0.42,"y":0.19,"e":0.06},{"p":19,"t":"b","x":0.57,"y":0.27,"e":0.06},{"p":19,"t":"b","x":0.72,"y":0.29,"e":0.07},{"p":19,"t":"b","x":0.89,"y":0.07,"e":0.07},
{"p":20,"t":"b","x":-0.88,"y":0.44,"e":0.06},{"p":20,"t":"b","x":-0.73,"y":0.43,"e":0.06},{"p":20,"t":"b","x":-0.56,"y":0.48,"e":0.06},{"p":20,"t":"b","x":-0.38,"y":0.43,"e":0.06},{"p":20,"t":"b","x":-0.21,"y":0.41,"e":0.06},{"p":20,"t":"b","x":-0.04,"y":0.41,"e":0.06},{"p":20,"t":"b","x":0.12,"y":0.38,"e":0.06},{"p":20,"t":"b","x":0.43,"y":0.49,"e":0.06},{"p":20,"t":"b","x":0.62,"y":0.33,"e":0.06},{"p":20,"t":"b","x":0.78,"y":-0.03,"e":0.07},{"p":20,"t":"b","x":0.93,"y":0.17,"e":0.07},
{"p":21,"t":"b","x":-0.87,"y":0.23,"e":0.06},{"p":21,"t":"b","x":-0.71,"y":0.44,"e":0.06},{"p":21,"t":"b","x":-0.55,"y":0.4,"e":0.06},{"p":21,"t":"b","x":-0.39,"y":0.6,"e":0.07},{"p":21,"t":"b","x":-0.23,"y":0.44,"e":0.06},{"p":21,"t":"b","x":-0.06,"y":0.56,"e":0.07},{"p":21,"t":"b","x":0.08,"y":0.41,"e":0.06},{"p":21,"t":"b","x":0.25,"y":0.38,"e":0.06},{"p":21,"t":"b","x":0.4,"y":0.21,"e":0.06},{"p":21,"t":"b","x":0.55,"y":0.2,"e":0.06},{"p":21,"t":"b","x":0.71,"y":0.06,"e":0.06},{"p":21,"t":"b","x":0.86,"y":0.23,"e":0.07},
{"p":22,"t":"b","x":-0.87,"y":0.3,"e":0.08},{"p":22,"t":"b","x":-0.72,"y":0.11,"e":0.07},{"p":22,"t":"b","x":-0.56,"y":0.6,"e":0.08},{"p":22,"t":"b","x":-0.39,"y":0.44,"e":0.07},{"p":22,"t":"b","x":-0.22,"y":0.3,"e":0.07},{"p":22,"t":"b","x":-0.06,"y":0.49,"e":0.08},{"p":22,"t":"b","x":0.09,"y":0.38,"e":0.07},{"p":22,"t":"b","x":0.25,"y":0.3,"e":0.07},{"p":22,"t":"b","x":0.59,"y":0.08,"e":0.08},{"p":22,"t":"b","x":0.75,"y":0.015,"e":0.08},{"p":22,"t":"b","x":0.9,"y":0.06,"e":0.09},
{"p":23,"t":"b","x":-0.88,"y":0.21,"e":0.08},{"p":23,"t":"b","x":-0.73,"y":0.6,"e":0.09},{"p":23,"t":"b","x":-0.56,"y":0.36,"e":0.08},{"p":23,"t":"b","x":-0.38,"y":0.42,"e":0.08},{"p":23,"t":"b","x":-0.21,"y":0.34,"e":0.08},{"p":23,"t":"b","x":-0.04,"y":0.44,"e":0.08},{"p":23,"t":"b","x":0.12,"y":0.5,"e":0.08},{"p":23,"t":"b","x":0.28,"y":0.19,"e":0.08},{"p":23,"t":"b","x":0.45,"y":0.23,"e":0.08},{"p":23,"t":"b","x":0.62,"y":0.09,"e":0.08},{"p":23,"t":"b","x":0.78,"y":-0.22,"e":0.09},{"p":23,"t":"b","x":0.93,"y":0.21,"e":0.12},
{"p":24,"t":"b","x":-0.88,"y":0.02,"e":0.09},{"p":24,"t":"b","x":-0.71,"y":0.36,"e":0.08},{"p":24,"t":"b","x":-0.55,"y":0.48,"e":0.08},{"p":24,"t":"b","x":-0.39,"y":0.56,"e":0.08},{"p":24,"t":"b","x":-0.23,"y":0.44,"e":0.08},{"p":24,"t":"b","x":-0.07,"y":0.52,"e":0.08},{"p":24,"t":"b","x":0.08,"y":0.42,"e":0.08},{"p":24,"t":"b","x":0.25,"y":0.33,"e":0.08},{"p":24,"t":"b","x":0.41,"y":0.29,"e":0.08},{"p":24,"t":"b","x":0.56,"y":0.13,"e":0.08},{"p":24,"t":"b","x":0.71,"y":0.05,"e":0.08},{"p":24,"t":"b","x":0.87,"y":-0.12,"e":0.09}
]},
"columns":3,
"spacing":{"row":2.4,"column":3},
"bounds":"flush",
"concat":[
{"transform":[{"filter":"datum.p==1"}],"width":91,"height":92,"layer":[
{"mark":{"type":"rule","strokeDash":[2,2],"color":"#888","strokeWidth":0.6},"encoding":{"y":{"datum":0,"type":"quantitative","axis":{"title":"T","values":[0,0.2],"labelExpr":"''+datum.value"}}}},
{"encoding":{"x":{"field":"x","type":"quantitative","scale":{"domain":[-1,1],"nice":false},"axis":null},"y":{"field":"y","type":"quantitative","scale":{"domain":[-0.183,0.296],"nice":false,"zero":false},"axis":{"title":"T","values":[0,0.2],"labelExpr":"''+datum.value"}}},"layer":[
{"transform":[{"filter":"datum.s"}],"mark":"line","encoding":{"color":{"field":"s","type":"nominal","scale":{"domain":["A","B","C","D","E"],"range":["#000000","#ff2020","#1a1aff","#20d020","#000000"]},"legend":null},"strokeDash":{"field":"s","type":"nominal","scale":{"domain":["A","B","C","D","E"],"range":[[1,0],[3,2],[1.6,2.6],[9,4],[6,3,1.5,3]]},"legend":null},"strokeWidth":{"field":"s","type":"nominal","scale":{"domain":["A","B","C","D","E"],"range":[2,1.8,2.2,1.8,1.6]},"legend":null}}},
{"transform":[{"filter":"datum.t=='m'"}],"mark":{"type":"errorbar","ticks":true,"color":"#ff00ff","clip":true},"encoding":{"yError":{"field":"e"}}},
{"transform":[{"filter":"datum.t=='m'"}],"mark":"point"},
{"transform":[{"filter":"datum.t=='b'"}],"mark":{"type":"errorbar","ticks":true,"color":"#555","clip":true},"encoding":{"yError":{"field":"e"}}},
{"transform":[{"filter":"datum.t=='b'"}],"mark":"circle"}]},
{"transform":[{"filter":"datum.t=='l'"}],"mark":{"type":"text","baseline":"top","dy":4},"encoding":{"x":{"datum":0,"type":"quantitative","axis":null},"y":{"datum":0.296,"type":"quantitative","axis":{"title":"T","values":[0,0.2],"labelExpr":"''+datum.value"}},"text":{"field":"lab"}}},
{"transform":[{"filter":"datum.t=='l'&&datum.sub"}],"mark":{"type":"text","baseline":"bottom","align":"left","fontSize":11,"color":"#222"},"encoding":{"x":{"datum":-0.97,"type":"quantitative","axis":null},"y":{"datum":-0.183,"type":"quantitative","axis":{"title":"T","values":[0,0.2],"labelExpr":"''+datum.value"}},"text":{"field":"sub"}}}
]},
{"transform":[{"filter":"datum.p==2"}],"width":91,"height":92,"layer":[
{"mark":{"type":"rule","strokeDash":[2,2],"color":"#888","strokeWidth":0.6},"encoding":{"y":{"datum":0,"type":"quantitative","axis":null}}},
{"encoding":{"x":{"field":"x","type":"quantitative","scale":{"domain":[-1,1],"nice":false},"axis":null},"y":{"field":"y","type":"quantitative","scale":{"domain":[-0.183,0.296],"nice":false,"zero":false},"axis":null}},"layer":[
{"transform":[{"filter":"datum.s"}],"mark":"line","encoding":{"color":{"field":"s","type":"nominal","scale":{"domain":["A","B","C","D","E"],"range":["#000000","#ff2020","#1a1aff","#20d020","#000000"]},"legend":null},"strokeDash":{"field":"s","type":"nominal","scale":{"domain":["A","B","C","D","E"],"range":[[1,0],[3,2],[1.6,2.6],[9,4],[6,3,1.5,3]]},"legend":null},"strokeWidth":{"field":"s","type":"nominal","scale":{"domain":["A","B","C","D","E"],"range":[2,1.8,2.2,1.8,1.6]},"legend":null}}},
{"transform":[{"filter":"datum.t=='m'"}],"mark":{"type":"errorbar","ticks":true,"color":"#ff00ff","clip":true},"encoding":{"yError":{"field":"e"}}},
{"transform":[{"filter":"datum.t=='m'"}],"mark":"point"},
{"transform":[{"filter":"datum.t=='b'"}],"mark":{"type":"errorbar","ticks":true,"color":"#555","clip":true},"encoding":{"yError":{"field":"e"}}},
{"transform":[{"filter":"datum.t=='b'"}],"mark":"circle"}]},
{"transform":[{"filter":"datum.t=='l'"}],"mark":{"type":"text","baseline":"top","dy":4},"encoding":{"x":{"datum":0,"type":"quantitative","axis":null},"y":{"datum":0.296,"type":"quantitative","axis":null},"text":{"field":"lab"}}},
{"transform":[{"filter":"datum.t=='l'&&datum.sub"}],"mark":{"type":"text","baseline":"bottom","align":"left","fontSize":11,"color":"#222"},"encoding":{"x":{"datum":-0.97,"type":"quantitative","axis":null},"y":{"datum":-0.183,"type":"quantitative","axis":null},"text":{"field":"sub"}}}
]},
{"transform":[{"filter":"datum.p==3"}],"width":91,"height":92,"layer":[
{"mark":{"type":"rule","strokeDash":[2,2],"color":"#888","strokeWidth":0.6},"encoding":{"y":{"datum":0,"type":"quantitative","axis":null}}},
{"encoding":{"x":{"field":"x","type":"quantitative","scale":{"domain":[-1,1],"nice":false},"axis":null},"y":{"field":"y","type":"quantitative","scale":{"domain":[-0.183,0.296],"nice":false,"zero":false},"axis":null}},"layer":[
{"transform":[{"filter":"datum.s"}],"mark":"line","encoding":{"color":{"field":"s","type":"nominal","scale":{"domain":["A","B","C","D","E"],"range":["#000000","#ff2020","#1a1aff","#20d020","#000000"]},"legend":null},"strokeDash":{"field":"s","type":"nominal","scale":{"domain":["A","B","C","D","E"],"range":[[1,0],[3,2],[1.6,2.6],[9,4],[6,3,1.5,3]]},"legend":null},"strokeWidth":{"field":"s","type":"nominal","scale":{"domain":["A","B","C","D","E"],"range":[2,1.8,2.2,1.8,1.6]},"legend":null}}},
{"transform":[{"filter":"datum.t=='m'"}],"mark":{"type":"errorbar","ticks":true,"color":"#ff00ff","clip":true},"encoding":{"yError":{"field":"e"}}},
{"transform":[{"filter":"datum.t=='m'"}],"mark":"point"},
{"transform":[{"filter":"datum.t=='b'"}],"mark":{"type":"errorbar","ticks":true,"color":"#555","clip":true},"encoding":{"yError":{"field":"e"}}},
{"transform":[{"filter":"datum.t=='b'"}],"mark":"circle"}]},
{"transform":[{"filter":"datum.t=='l'"}],"mark":{"type":"text","baseline":"top","dy":4},"encoding":{"x":{"datum":0,"type":"quantitative","axis":null},"y":{"datum":0.296,"type":"quantitative","axis":null},"text":{"field":"lab"}}},
{"transform":[{"filter":"datum.t=='l'&&datum.sub"}],"mark":{"type":"text","baseline":"bottom","align":"left","fontSize":11,"color":"#222"},"encoding":{"x":{"datum":-0.97,"type":"quantitative","axis":null},"y":{"datum":-0.183,"type":"quantitative","axis":null},"text":{"field":"sub"}}}
]},
{"transform":[{"filter":"datum.p==4"}],"width":91,"height":92,"layer":[
{"mark":{"type":"rule","strokeDash":[2,2],"color":"#888","strokeWidth":0.6},"encoding":{"y":{"datum":0,"type":"quantitative","axis":{"title":"T","values":[0,0.25,0.5],"labelExpr":"''+datum.value"}}}},
{"encoding":{"x":{"field":"x","type":"quantitative","scale":{"domain":[-1,1],"nice":false},"axis":null},"y":{"field":"y","type":"quantitative","scale":{"domain":[-0.19,0.554],"nice":false,"zero":false},"axis":{"title":"T","values":[0,0.25,0.5],"labelExpr":"''+datum.value"}}},"layer":[
{"transform":[{"filter":"datum.s"}],"mark":"line","encoding":{"color":{"field":"s","type":"nominal","scale":{"domain":["A","B","C","D","E"],"range":["#000000","#ff2020","#1a1aff","#20d020","#000000"]},"legend":null},"strokeDash":{"field":"s","type":"nominal","scale":{"domain":["A","B","C","D","E"],"range":[[1,0],[3,2],[1.6,2.6],[9,4],[6,3,1.5,3]]},"legend":null},"strokeWidth":{"field":"s","type":"nominal","scale":{"domain":["A","B","C","D","E"],"range":[2,1.8,2.2,1.8,1.6]},"legend":null}}},
{"transform":[{"filter":"datum.t=='m'"}],"mark":{"type":"errorbar","ticks":true,"color":"#ff00ff","clip":true},"encoding":{"yError":{"field":"e"}}},
{"transform":[{"filter":"datum.t=='m'"}],"mark":"point"},
{"transform":[{"filter":"datum.t=='b'"}],"mark":{"type":"errorbar","ticks":true,"color":"#555","clip":true},"encoding":{"yError":{"field":"e"}}},
{"transform":[{"filter":"datum.t=='b'"}],"mark":"circle"}]},
{"transform":[{"filter":"datum.t=='l'"}],"mark":{"type":"text","baseline":"top","dy":4},"encoding":{"x":{"datum":0,"type":"quantitative","axis":null},"y":{"datum":0.554,"type":"quantitative","axis":{"title":"T","values":[0,0.25,0.5],"labelExpr":"''+datum.value"}},"text":{"field":"lab"}}},
{"transform":[{"filter":"datum.t=='l'&&datum.sub"}],"mark":{"type":"text","baseline":"bottom","align":"left","fontSize":11,"color":"#222"},"encoding":{"x":{"datum":-0.97,"type":"quantitative","axis":null},"y":{"datum":-0.19,"type":"quantitative","axis":{"title":"T","values":[0,0.25,0.5],"labelExpr":"''+datum.value"}},"text":{"field":"sub"}}}
]},
{"transform":[{"filter":"datum.p==5"}],"width":91,"height":92,"layer":[
{"mark":{"type":"rule","strokeDash":[2,2],"color":"#888","strokeWidth":0.6},"encoding":{"y":{"datum":0,"type":"quantitative","axis":null}}},
{"encoding":{"x":{"field":"x","type":"quantitative","scale":{"domain":[-1,1],"nice":false},"axis":null},"y":{"field":"y","type":"quantitative","scale":{"domain":[-0.19,0.554],"nice":false,"zero":false},"axis":null}},"layer":[
{"transform":[{"filter":"datum.s"}],"mark":"line","encoding":{"color":{"field":"s","type":"nominal","scale":{"domain":["A","B","C","D","E"],"range":["#000000","#ff2020","#1a1aff","#20d020","#000000"]},"legend":null},"strokeDash":{"field":"s","type":"nominal","scale":{"domain":["A","B","C","D","E"],"range":[[1,0],[3,2],[1.6,2.6],[9,4],[6,3,1.5,3]]},"legend":null},"strokeWidth":{"field":"s","type":"nominal","scale":{"domain":["A","B","C","D","E"],"range":[2,1.8,2.2,1.8,1.6]},"legend":null}}},
{"transform":[{"filter":"datum.t=='m'"}],"mark":{"type":"errorbar","ticks":true,"color":"#ff00ff","clip":true},"encoding":{"yError":{"field":"e"}}},
{"transform":[{"filter":"datum.t=='m'"}],"mark":"point"},
{"transform":[{"filter":"datum.t=='b'"}],"mark":{"type":"errorbar","ticks":true,"color":"#555","clip":true},"encoding":{"yError":{"field":"e"}}},
{"transform":[{"filter":"datum.t=='b'"}],"mark":"circle"}]},
{"transform":[{"filter":"datum.t=='l'"}],"mark":{"type":"text","baseline":"top","dy":4},"encoding":{"x":{"datum":0,"type":"quantitative","axis":null},"y":{"datum":0.554,"type":"quantitative","axis":null},"text":{"field":"lab"}}},
{"transform":[{"filter":"datum.t=='l'&&datum.sub"}],"mark":{"type":"text","baseline":"bottom","align":"left","fontSize":11,"color":"#222"},"encoding":{"x":{"datum":-0.97,"type":"quantitative","axis":null},"y":{"datum":-0.19,"type":"quantitative","axis":null},"text":{"field":"sub"}}}
]},
{"transform":[{"filter":"datum.p==6"}],"width":91,"height":92,"layer":[
{"mark":{"type":"rule","strokeDash":[2,2],"color":"#888","strokeWidth":0.6},"encoding":{"y":{"datum":0,"type":"quantitative","axis":null}}},
{"encoding":{"x":{"field":"x","type":"quantitative","scale":{"domain":[-1,1],"nice":false},"axis":null},"y":{"field":"y","type":"quantitative","scale":{"domain":[-0.19,0.554],"nice":false,"zero":false},"axis":null}},"layer":[
{"transform":[{"filter":"datum.s"}],"mark":"line","encoding":{"color":{"field":"s","type":"nominal","scale":{"domain":["A","B","C","D","E"],"range":["#000000","#ff2020","#1a1aff","#20d020","#000000"]},"legend":null},"strokeDash":{"field":"s","type":"nominal","scale":{"domain":["A","B","C","D","E"],"range":[[1,0],[3,2],[1.6,2.6],[9,4],[6,3,1.5,3]]},"legend":null},"strokeWidth":{"field":"s","type":"nominal","scale":{"domain":["A","B","C","D","E"],"range":[2,1.8,2.2,1.8,1.6]},"legend":null}}},
{"transform":[{"filter":"datum.t=='m'"}],"mark":{"type":"errorbar","ticks":true,"color":"#ff00ff","clip":true},"encoding":{"yError":{"field":"e"}}},
{"transform":[{"filter":"datum.t=='m'"}],"mark":"point"},
{"transform":[{"filter":"datum.t=='b'"}],"mark":{"type":"errorbar","ticks":true,"color":"#555","clip":true},"encoding":{"yError":{"field":"e"}}},
{"transform":[{"filter":"datum.t=='b'"}],"mark":"circle"}]},
{"transform":[{"filter":"datum.t=='l'"}],"mark":{"type":"text","baseline":"top","dy":4},"encoding":{"x":{"datum":0,"type":"quantitative","axis":null},"y":{"datum":0.554,"type":"quantitative","axis":null},"text":{"field":"lab"}}},
{"transform":[{"filter":"datum.t=='l'&&datum.sub"}],"mark":{"type":"text","baseline":"bottom","align":"left","fontSize":11,"color":"#222"},"encoding":{"x":{"datum":-0.97,"type":"quantitative","axis":null},"y":{"datum":-0.19,"type":"quantitative","axis":null},"text":{"field":"sub"}}}
]},
{"transform":[{"filter":"datum.p==7"}],"width":91,"height":92,"layer":[
{"mark":{"type":"rule","strokeDash":[2,2],"color":"#888","strokeWidth":0.6},"encoding":{"y":{"datum":0,"type":"quantitative","axis":{"title":"T","values":[0,1],"labelExpr":"''+datum.value"}}}},
{"encoding":{"x":{"field":"x","type":"quantitative","scale":{"domain":[-1,1],"nice":false},"axis":null},"y":{"field":"y","type":"quantitative","scale":{"domain":[-0.53,1.02],"nice":false,"zero":false},"axis":{"title":"T","values":[0,1],"labelExpr":"''+datum.value"}}},"layer":[
{"transform":[{"filter":"datum.s"}],"mark":"line","encoding":{"color":{"field":"s","type":"nominal","scale":{"domain":["A","B","C","D","E"],"range":["#000000","#ff2020","#1a1aff","#20d020","#000000"]},"legend":null},"strokeDash":{"field":"s","type":"nominal","scale":{"domain":["A","B","C","D","E"],"range":[[1,0],[3,2],[1.6,2.6],[9,4],[6,3,1.5,3]]},"legend":null},"strokeWidth":{"field":"s","type":"nominal","scale":{"domain":["A","B","C","D","E"],"range":[2,1.8,2.2,1.8,1.6]},"legend":null}}},
{"transform":[{"filter":"datum.t=='b'"}],"mark":{"type":"errorbar","ticks":true,"color":"#555","clip":true},"encoding":{"yError":{"field":"e"}}},
{"transform":[{"filter":"datum.t=='b'"}],"mark":"circle"}]},
{"transform":[{"filter":"datum.t=='l'"}],"mark":{"type":"text","baseline":"top","dy":4},"encoding":{"x":{"datum":0,"type":"quantitative","axis":null},"y":{"datum":1.02,"type":"quantitative","axis":{"title":"T","values":[0,1],"labelExpr":"''+datum.value"}},"text":{"field":"lab"}}}
]},
{"transform":[{"filter":"datum.p==8"}],"width":91,"height":92,"layer":[
{"mark":{"type":"rule","strokeDash":[2,2],"color":"#888","strokeWidth":0.6},"encoding":{"y":{"datum":0,"type":"quantitative","axis":null}}},
{"encoding":{"x":{"field":"x","type":"quantitative","scale":{"domain":[-1,1],"nice":false},"axis":null},"y":{"field":"y","type":"quantitative","scale":{"domain":[-0.53,1.02],"nice":false,"zero":false},"axis":null}},"layer":[
{"transform":[{"filter":"datum.s"}],"mark":"line","encoding":{"color":{"field":"s","type":"nominal","scale":{"domain":["A","B","C","D","E"],"range":["#000000","#ff2020","#1a1aff","#20d020","#000000"]},"legend":null},"strokeDash":{"field":"s","type":"nominal","scale":{"domain":["A","B","C","D","E"],"range":[[1,0],[3,2],[1.6,2.6],[9,4],[6,3,1.5,3]]},"legend":null},"strokeWidth":{"field":"s","type":"nominal","scale":{"domain":["A","B","C","D","E"],"range":[2,1.8,2.2,1.8,1.6]},"legend":null}}},
{"transform":[{"filter":"datum.t=='m'"}],"mark":{"type":"errorbar","ticks":true,"color":"#ff00ff","clip":true},"encoding":{"yError":{"field":"e"}}},
{"transform":[{"filter":"datum.t=='m'"}],"mark":"point"},
{"transform":[{"filter":"datum.t=='b'"}],"mark":{"type":"errorbar","ticks":true,"color":"#555","clip":true},"encoding":{"yError":{"field":"e"}}},
{"transform":[{"filter":"datum.t=='b'"}],"mark":"circle"}]},
{"transform":[{"filter":"datum.t=='l'"}],"mark":{"type":"text","baseline":"top","dy":4},"encoding":{"x":{"datum":0,"type":"quantitative","axis":null},"y":{"datum":1.02,"type":"quantitative","axis":null},"text":{"field":"lab"}}},
{"transform":[{"filter":"datum.t=='l'&&datum.sub"}],"mark":{"type":"text","baseline":"bottom","align":"left","fontSize":11,"color":"#222"},"encoding":{"x":{"datum":-0.97,"type":"quantitative","axis":null},"y":{"datum":-0.53,"type":"quantitative","axis":null},"text":{"field":"sub"}}}
]},
{"transform":[{"filter":"datum.p==9"}],"width":91,"height":92,"layer":[
{"mark":{"type":"rule","strokeDash":[2,2],"color":"#888","strokeWidth":0.6},"encoding":{"y":{"datum":0,"type":"quantitative","axis":null}}},
{"encoding":{"x":{"field":"x","type":"quantitative","scale":{"domain":[-1,1],"nice":false},"axis":null},"y":{"field":"y","type":"quantitative","scale":{"domain":[-0.53,1.02],"nice":false,"zero":false},"axis":null}},"layer":[
{"transform":[{"filter":"datum.s"}],"mark":"line","encoding":{"color":{"field":"s","type":"nominal","scale":{"domain":["A","B","C","D","E"],"range":["#000000","#ff2020","#1a1aff","#20d020","#000000"]},"legend":null},"strokeDash":{"field":"s","type":"nominal","scale":{"domain":["A","B","C","D","E"],"range":[[1,0],[3,2],[1.6,2.6],[9,4],[6,3,1.5,3]]},"legend":null},"strokeWidth":{"field":"s","type":"nominal","scale":{"domain":["A","B","C","D","E"],"range":[2,1.8,2.2,1.8,1.6]},"legend":null}}},
{"transform":[{"filter":"datum.t=='b'"}],"mark":{"type":"errorbar","ticks":true,"color":"#555","clip":true},"encoding":{"yError":{"field":"e"}}},
{"transform":[{"filter":"datum.t=='b'"}],"mark":"circle"}]},
{"transform":[{"filter":"datum.t=='l'"}],"mark":{"type":"text","baseline":"top","dy":4},"encoding":{"x":{"datum":0,"type":"quantitative","axis":null},"y":{"datum":1.02,"type":"quantitative","axis":null},"text":{"field":"lab"}}}
]},
{"transform":[{"filter":"datum.p==10"}],"width":91,"height":92,"layer":[
{"mark":{"type":"rule","strokeDash":[2,2],"color":"#888","strokeWidth":0.6},"encoding":{"y":{"datum":0,"type":"quantitative","axis":{"title":"T","values":[0,1],"labelExpr":"''+datum.value"}}}},
{"encoding":{"x":{"field":"x","type":"quantitative","scale":{"domain":[-1,1],"nice":false},"axis":null},"y":{"field":"y","type":"quantitative","scale":{"domain":[-0.78,1.0],"nice":false,"zero":false},"axis":{"title":"T","values":[0,1],"labelExpr":"''+datum.value"}}},"layer":[
{"transform":[{"filter":"datum.s"}],"mark":"line","encoding":{"color":{"field":"s","type":"nominal","scale":{"domain":["A","B","C","D","E"],"range":["#000000","#ff2020","#1a1aff","#20d020","#000000"]},"legend":null},"strokeDash":{"field":"s","type":"nominal","scale":{"domain":["A","B","C","D","E"],"range":[[1,0],[3,2],[1.6,2.6],[9,4],[6,3,1.5,3]]},"legend":null},"strokeWidth":{"field":"s","type":"nominal","scale":{"domain":["A","B","C","D","E"],"range":[2,1.8,2.2,1.8,1.6]},"legend":null}}},
{"transform":[{"filter":"datum.t=='m'"}],"mark":{"type":"errorbar","ticks":true,"color":"#ff00ff","clip":true},"encoding":{"yError":{"field":"e"}}},
{"transform":[{"filter":"datum.t=='m'"}],"mark":"point"},
{"transform":[{"filter":"datum.t=='b'"}],"mark":{"type":"errorbar","ticks":true,"color":"#555","clip":true},"encoding":{"yError":{"field":"e"}}},
{"transform":[{"filter":"datum.t=='b'"}],"mark":"circle"}]},
{"transform":[{"filter":"datum.t=='l'"}],"mark":{"type":"text","baseline":"top","dy":4},"encoding":{"x":{"datum":0,"type":"quantitative","axis":null},"y":{"datum":1.0,"type":"quantitative","axis":{"title":"T","values":[0,1],"labelExpr":"''+datum.value"}},"text":{"field":"lab"}}},
{"transform":[{"filter":"datum.t=='l'&&datum.sub"}],"mark":{"type":"text","baseline":"bottom","align":"left","fontSize":11,"color":"#222"},"encoding":{"x":{"datum":-0.97,"type":"quantitative","axis":null},"y":{"datum":-0.78,"type":"quantitative","axis":{"title":"T","values":[0,1],"labelExpr":"''+datum.value"}},"text":{"field":"sub"}}}
]},
{"transform":[{"filter":"datum.p==11"}],"width":91,"height":92,"layer":[
{"mark":{"type":"rule","strokeDash":[2,2],"color":"#888","strokeWidth":0.6},"encoding":{"y":{"datum":0,"type":"quantitative","axis":null}}},
{"encoding":{"x":{"field":"x","type":"quantitative","scale":{"domain":[-1,1],"nice":false},"axis":null},"y":{"field":"y","type":"quantitative","scale":{"domain":[-0.78,1.0],"nice":false,"zero":false},"axis":null}},"layer":[
{"transform":[{"filter":"datum.s"}],"mark":"line","encoding":{"color":{"field":"s","type":"nominal","scale":{"domain":["A","B","C","D","E"],"range":["#000000","#ff2020","#1a1aff","#20d020","#000000"]},"legend":null},"strokeDash":{"field":"s","type":"nominal","scale":{"domain":["A","B","C","D","E"],"range":[[1,0],[3,2],[1.6,2.6],[9,4],[6,3,1.5,3]]},"legend":null},"strokeWidth":{"field":"s","type":"nominal","scale":{"domain":["A","B","C","D","E"],"range":[2,1.8,2.2,1.8,1.6]},"legend":null}}},
{"transform":[{"filter":"datum.t=='b'"}],"mark":{"type":"errorbar","ticks":true,"color":"#555","clip":true},"encoding":{"yError":{"field":"e"}}},
{"transform":[{"filter":"datum.t=='b'"}],"mark":"circle"}]},
{"transform":[{"filter":"datum.t=='l'"}],"mark":{"type":"text","baseline":"top","dy":4},"encoding":{"x":{"datum":0,"type":"quantitative","axis":null},"y":{"datum":1.0,"type":"quantitative","axis":null},"text":{"field":"lab"}}}
]},
{"transform":[{"filter":"datum.p==12"}],"width":91,"height":92,"layer":[
{"mark":{"type":"rule","strokeDash":[2,2],"color":"#888","strokeWidth":0.6},"encoding":{"y":{"datum":0,"type":"quantitative","axis":null}}},
{"encoding":{"x":{"field":"x","type":"quantitative","scale":{"domain":[-1,1],"nice":false},"axis":null},"y":{"field":"y","type":"quantitative","scale":{"domain":[-0.78,1.0],"nice":false,"zero":false},"axis":null}},"layer":[
{"transform":[{"filter":"datum.s"}],"mark":"line","encoding":{"color":{"field":"s","type":"nominal","scale":{"domain":["A","B","C","D","E"],"range":["#000000","#ff2020","#1a1aff","#20d020","#000000"]},"legend":null},"strokeDash":{"field":"s","type":"nominal","scale":{"domain":["A","B","C","D","E"],"range":[[1,0],[3,2],[1.6,2.6],[9,4],[6,3,1.5,3]]},"legend":null},"strokeWidth":{"field":"s","type":"nominal","scale":{"domain":["A","B","C","D","E"],"range":[2,1.8,2.2,1.8,1.6]},"legend":null}}},
{"transform":[{"filter":"datum.t=='b'"}],"mark":{"type":"errorbar","ticks":true,"color":"#555","clip":true},"encoding":{"yError":{"field":"e"}}},
{"transform":[{"filter":"datum.t=='b'"}],"mark":"circle"}]},
{"transform":[{"filter":"datum.t=='l'"}],"mark":{"type":"text","baseline":"top","dy":4},"encoding":{"x":{"datum":0,"type":"quantitative","axis":null},"y":{"datum":1.0,"type":"quantitative","axis":null},"text":{"field":"lab"}}}
]},
{"transform":[{"filter":"datum.p==13"}],"width":91,"height":92,"layer":[
{"mark":{"type":"rule","strokeDash":[2,2],"color":"#888","strokeWidth":0.6},"encoding":{"y":{"datum":0,"type":"quantitative","axis":{"title":"F","values":[0,0.2],"labelExpr":"''+datum.value"}}}},
{"encoding":{"x":{"field":"x","type":"quantitative","scale":{"domain":[-1,1],"nice":false},"axis":null},"y":{"field":"y","type":"quantitative","scale":{"domain":[-0.149,0.234],"nice":false,"zero":false},"axis":{"title":"F","values":[0,0.2],"labelExpr":"''+datum.value"}}},"layer":[
{"transform":[{"filter":"datum.s"}],"mark":"line","encoding":{"color":{"field":"s","type":"nominal","scale":{"domain":["A","B","C","D","E"],"range":["#000000","#ff2020","#1a1aff","#20d020","#000000"]},"legend":null},"strokeDash":{"field":"s","type":"nominal","scale":{"domain":["A","B","C","D","E"],"range":[[1,0],[3,2],[1.6,2.6],[9,4],[6,3,1.5,3]]},"legend":null},"strokeWidth":{"field":"s","type":"nominal","scale":{"domain":["A","B","C","D","E"],"range":[2,1.8,2.2,1.8,1.6]},"legend":null}}},
{"transform":[{"filter":"datum.t=='b'"}],"mark":{"type":"errorbar","ticks":true,"color":"#555","clip":true},"encoding":{"yError":{"field":"e"}}},
{"transform":[{"filter":"datum.t=='b'"}],"mark":"circle"}]},
{"transform":[{"filter":"datum.t=='l'"}],"mark":{"type":"text","baseline":"top","dy":4},"encoding":{"x":{"datum":0,"type":"quantitative","axis":null},"y":{"datum":0.234,"type":"quantitative","axis":{"title":"F","values":[0,0.2],"labelExpr":"''+datum.value"}},"text":{"field":"lab"}}}
]},
{"transform":[{"filter":"datum.p==14"}],"width":91,"height":92,"layer":[
{"mark":{"type":"rule","strokeDash":[2,2],"color":"#888","strokeWidth":0.6},"encoding":{"y":{"datum":0,"type":"quantitative","axis":null}}},
{"encoding":{"x":{"field":"x","type":"quantitative","scale":{"domain":[-1,1],"nice":false},"axis":null},"y":{"field":"y","type":"quantitative","scale":{"domain":[-0.149,0.234],"nice":false,"zero":false},"axis":null}},"layer":[
{"transform":[{"filter":"datum.s"}],"mark":"line","encoding":{"color":{"field":"s","type":"nominal","scale":{"domain":["A","B","C","D","E"],"range":["#000000","#ff2020","#1a1aff","#20d020","#000000"]},"legend":null},"strokeDash":{"field":"s","type":"nominal","scale":{"domain":["A","B","C","D","E"],"range":[[1,0],[3,2],[1.6,2.6],[9,4],[6,3,1.5,3]]},"legend":null},"strokeWidth":{"field":"s","type":"nominal","scale":{"domain":["A","B","C","D","E"],"range":[2,1.8,2.2,1.8,1.6]},"legend":null}}},
{"transform":[{"filter":"datum.t=='b'"}],"mark":{"type":"errorbar","ticks":true,"color":"#555","clip":true},"encoding":{"yError":{"field":"e"}}},
{"transform":[{"filter":"datum.t=='b'"}],"mark":"circle"}]},
{"transform":[{"filter":"datum.t=='l'"}],"mark":{"type":"text","baseline":"top","dy":4},"encoding":{"x":{"datum":0,"type":"quantitative","axis":null},"y":{"datum":0.234,"type":"quantitative","axis":null},"text":{"field":"lab"}}}
]},
{"transform":[{"filter":"datum.p==15"}],"width":91,"height":92,"layer":[
{"mark":{"type":"rule","strokeDash":[2,2],"color":"#888","strokeWidth":0.6},"encoding":{"y":{"datum":0,"type":"quantitative","axis":null}}},
{"encoding":{"x":{"field":"x","type":"quantitative","scale":{"domain":[-1,1],"nice":false},"axis":null},"y":{"field":"y","type":"quantitative","scale":{"domain":[-0.149,0.234],"nice":false,"zero":false},"axis":null}},"layer":[
{"transform":[{"filter":"datum.s"}],"mark":"line","encoding":{"color":{"field":"s","type":"nominal","scale":{"domain":["A","B","C","D","E"],"range":["#000000","#ff2020","#1a1aff","#20d020","#000000"]},"legend":null},"strokeDash":{"field":"s","type":"nominal","scale":{"domain":["A","B","C","D","E"],"range":[[1,0],[3,2],[1.6,2.6],[9,4],[6,3,1.5,3]]},"legend":null},"strokeWidth":{"field":"s","type":"nominal","scale":{"domain":["A","B","C","D","E"],"range":[2,1.8,2.2,1.8,1.6]},"legend":null}}},
{"transform":[{"filter":"datum.t=='b'"}],"mark":{"type":"errorbar","ticks":true,"color":"#555","clip":true},"encoding":{"yError":{"field":"e"}}},
{"transform":[{"filter":"datum.t=='b'"}],"mark":"circle"}]},
{"transform":[{"filter":"datum.t=='l'"}],"mark":{"type":"text","baseline":"top","dy":4},"encoding":{"x":{"datum":0,"type":"quantitative","axis":null},"y":{"datum":0.234,"type":"quantitative","axis":null},"text":{"field":"lab"}}}
]},
{"transform":[{"filter":"datum.p==16"}],"width":91,"height":92,"layer":[
{"mark":{"type":"rule","strokeDash":[2,2],"color":"#888","strokeWidth":0.6},"encoding":{"y":{"datum":0,"type":"quantitative","axis":{"title":"F","values":[0,0.5],"labelExpr":"''+datum.value"}}}},
{"encoding":{"x":{"field":"x","type":"quantitative","scale":{"domain":[-1,1],"nice":false},"axis":null},"y":{"field":"y","type":"quantitative","scale":{"domain":[-0.3,0.58],"nice":false,"zero":false},"axis":{"title":"F","values":[0,0.5],"labelExpr":"''+datum.value"}}},"layer":[
{"transform":[{"filter":"datum.s"}],"mark":"line","encoding":{"color":{"field":"s","type":"nominal","scale":{"domain":["A","B","C","D","E"],"range":["#000000","#ff2020","#1a1aff","#20d020","#000000"]},"legend":null},"strokeDash":{"field":"s","type":"nominal","scale":{"domain":["A","B","C","D","E"],"range":[[1,0],[3,2],[1.6,2.6],[9,4],[6,3,1.5,3]]},"legend":null},"strokeWidth":{"field":"s","type":"nominal","scale":{"domain":["A","B","C","D","E"],"range":[2,1.8,2.2,1.8,1.6]},"legend":null}}},
{"transform":[{"filter":"datum.t=='b'"}],"mark":{"type":"errorbar","ticks":true,"color":"#555","clip":true},"encoding":{"yError":{"field":"e"}}},
{"transform":[{"filter":"datum.t=='b'"}],"mark":"circle"}]},
{"transform":[{"filter":"datum.t=='l'"}],"mark":{"type":"text","baseline":"top","dy":4},"encoding":{"x":{"datum":0,"type":"quantitative","axis":null},"y":{"datum":0.58,"type":"quantitative","axis":{"title":"F","values":[0,0.5],"labelExpr":"''+datum.value"}},"text":{"field":"lab"}}}
]},
{"transform":[{"filter":"datum.p==17"}],"width":91,"height":92,"layer":[
{"mark":{"type":"rule","strokeDash":[2,2],"color":"#888","strokeWidth":0.6},"encoding":{"y":{"datum":0,"type":"quantitative","axis":null}}},
{"encoding":{"x":{"field":"x","type":"quantitative","scale":{"domain":[-1,1],"nice":false},"axis":null},"y":{"field":"y","type":"quantitative","scale":{"domain":[-0.3,0.58],"nice":false,"zero":false},"axis":null}},"layer":[
{"transform":[{"filter":"datum.s"}],"mark":"line","encoding":{"color":{"field":"s","type":"nominal","scale":{"domain":["A","B","C","D","E"],"range":["#000000","#ff2020","#1a1aff","#20d020","#000000"]},"legend":null},"strokeDash":{"field":"s","type":"nominal","scale":{"domain":["A","B","C","D","E"],"range":[[1,0],[3,2],[1.6,2.6],[9,4],[6,3,1.5,3]]},"legend":null},"strokeWidth":{"field":"s","type":"nominal","scale":{"domain":["A","B","C","D","E"],"range":[2,1.8,2.2,1.8,1.6]},"legend":null}}},
{"transform":[{"filter":"datum.t=='b'"}],"mark":{"type":"errorbar","ticks":true,"color":"#555","clip":true},"encoding":{"yError":{"field":"e"}}},
{"transform":[{"filter":"datum.t=='b'"}],"mark":"circle"}]},
{"transform":[{"filter":"datum.t=='l'"}],"mark":{"type":"text","baseline":"top","dy":4},"encoding":{"x":{"datum":0,"type":"quantitative","axis":null},"y":{"datum":0.58,"type":"quantitative","axis":null},"text":{"field":"lab"}}}
]},
{"transform":[{"filter":"datum.p==18"}],"width":91,"height":92,"layer":[
{"mark":{"type":"rule","strokeDash":[2,2],"color":"#888","strokeWidth":0.6},"encoding":{"y":{"datum":0,"type":"quantitative","axis":null}}},
{"encoding":{"x":{"field":"x","type":"quantitative","scale":{"domain":[-1,1],"nice":false},"axis":null},"y":{"field":"y","type":"quantitative","scale":{"domain":[-0.3,0.58],"nice":false,"zero":false},"axis":null}},"layer":[
{"transform":[{"filter":"datum.s"}],"mark":"line","encoding":{"color":{"field":"s","type":"nominal","scale":{"domain":["A","B","C","D","E"],"range":["#000000","#ff2020","#1a1aff","#20d020","#000000"]},"legend":null},"strokeDash":{"field":"s","type":"nominal","scale":{"domain":["A","B","C","D","E"],"range":[[1,0],[3,2],[1.6,2.6],[9,4],[6,3,1.5,3]]},"legend":null},"strokeWidth":{"field":"s","type":"nominal","scale":{"domain":["A","B","C","D","E"],"range":[2,1.8,2.2,1.8,1.6]},"legend":null}}},
{"transform":[{"filter":"datum.t=='b'"}],"mark":{"type":"errorbar","ticks":true,"color":"#555","clip":true},"encoding":{"yError":{"field":"e"}}},
{"transform":[{"filter":"datum.t=='b'"}],"mark":"circle"}]},
{"transform":[{"filter":"datum.t=='l'"}],"mark":{"type":"text","baseline":"top","dy":4},"encoding":{"x":{"datum":0,"type":"quantitative","axis":null},"y":{"datum":0.58,"type":"quantitative","axis":null},"text":{"field":"lab"}}}
]},
{"transform":[{"filter":"datum.p==19"}],"width":91,"height":92,"layer":[
{"mark":{"type":"rule","strokeDash":[2,2],"color":"#888","strokeWidth":0.6},"encoding":{"y":{"datum":0,"type":"quantitative","axis":{"title":"F","values":[0,1],"labelExpr":"''+datum.value"}}}},
{"encoding":{"x":{"field":"x","type":"quantitative","scale":{"domain":[-1,1],"nice":false},"axis":null},"y":{"field":"y","type":"quantitative","scale":{"domain":[-0.7,1.0],"nice":false,"zero":false},"axis":{"title":"F","values":[0,1],"labelExpr":"''+datum.value"}}},"layer":[
{"transform":[{"filter":"datum.s"}],"mark":"line","encoding":{"color":{"field":"s","type":"nominal","scale":{"domain":["A","B","C","D","E"],"range":["#000000","#ff2020","#1a1aff","#20d020","#000000"]},"legend":null},"strokeDash":{"field":"s","type":"nominal","scale":{"domain":["A","B","C","D","E"],"range":[[1,0],[3,2],[1.6,2.6],[9,4],[6,3,1.5,3]]},"legend":null},"strokeWidth":{"field":"s","type":"nominal","scale":{"domain":["A","B","C","D","E"],"range":[2,1.8,2.2,1.8,1.6]},"legend":null}}},
{"transform":[{"filter":"datum.t=='b'"}],"mark":{"type":"errorbar","ticks":true,"color":"#555","clip":true},"encoding":{"yError":{"field":"e"}}},
{"transform":[{"filter":"datum.t=='b'"}],"mark":"circle"}]},
{"transform":[{"filter":"datum.t=='l'"}],"mark":{"type":"text","baseline":"top","dy":4},"encoding":{"x":{"datum":0,"type":"quantitative","axis":null},"y":{"datum":1.0,"type":"quantitative","axis":{"title":"F","values":[0,1],"labelExpr":"''+datum.value"}},"text":{"field":"lab"}}}
]},
{"transform":[{"filter":"datum.p==20"}],"width":91,"height":92,"layer":[
{"mark":{"type":"rule","strokeDash":[2,2],"color":"#888","strokeWidth":0.6},"encoding":{"y":{"datum":0,"type":"quantitative","axis":null}}},
{"encoding":{"x":{"field":"x","type":"quantitative","scale":{"domain":[-1,1],"nice":false},"axis":null},"y":{"field":"y","type":"quantitative","scale":{"domain":[-0.7,1.0],"nice":false,"zero":false},"axis":null}},"layer":[
{"transform":[{"filter":"datum.s"}],"mark":"line","encoding":{"color":{"field":"s","type":"nominal","scale":{"domain":["A","B","C","D","E"],"range":["#000000","#ff2020","#1a1aff","#20d020","#000000"]},"legend":null},"strokeDash":{"field":"s","type":"nominal","scale":{"domain":["A","B","C","D","E"],"range":[[1,0],[3,2],[1.6,2.6],[9,4],[6,3,1.5,3]]},"legend":null},"strokeWidth":{"field":"s","type":"nominal","scale":{"domain":["A","B","C","D","E"],"range":[2,1.8,2.2,1.8,1.6]},"legend":null}}},
{"transform":[{"filter":"datum.t=='b'"}],"mark":{"type":"errorbar","ticks":true,"color":"#555","clip":true},"encoding":{"yError":{"field":"e"}}},
{"transform":[{"filter":"datum.t=='b'"}],"mark":"circle"}]},
{"transform":[{"filter":"datum.t=='l'"}],"mark":{"type":"text","baseline":"top","dy":4},"encoding":{"x":{"datum":0,"type":"quantitative","axis":null},"y":{"datum":1.0,"type":"quantitative","axis":null},"text":{"field":"lab"}}}
]},
{"transform":[{"filter":"datum.p==21"}],"width":91,"height":92,"layer":[
{"mark":{"type":"rule","strokeDash":[2,2],"color":"#888","strokeWidth":0.6},"encoding":{"y":{"datum":0,"type":"quantitative","axis":null}}},
{"encoding":{"x":{"field":"x","type":"quantitative","scale":{"domain":[-1,1],"nice":false},"axis":null},"y":{"field":"y","type":"quantitative","scale":{"domain":[-0.7,1.0],"nice":false,"zero":false},"axis":null}},"layer":[
{"transform":[{"filter":"datum.s"}],"mark":"line","encoding":{"color":{"field":"s","type":"nominal","scale":{"domain":["A","B","C","D","E"],"range":["#000000","#ff2020","#1a1aff","#20d020","#000000"]},"legend":null},"strokeDash":{"field":"s","type":"nominal","scale":{"domain":["A","B","C","D","E"],"range":[[1,0],[3,2],[1.6,2.6],[9,4],[6,3,1.5,3]]},"legend":null},"strokeWidth":{"field":"s","type":"nominal","scale":{"domain":["A","B","C","D","E"],"range":[2,1.8,2.2,1.8,1.6]},"legend":null}}},
{"transform":[{"filter":"datum.t=='b'"}],"mark":{"type":"errorbar","ticks":true,"color":"#555","clip":true},"encoding":{"yError":{"field":"e"}}},
{"transform":[{"filter":"datum.t=='b'"}],"mark":"circle"}]},
{"transform":[{"filter":"datum.t=='l'"}],"mark":{"type":"text","baseline":"top","dy":4},"encoding":{"x":{"datum":0,"type":"quantitative","axis":null},"y":{"datum":1.0,"type":"quantitative","axis":null},"text":{"field":"lab"}}}
]},
{"transform":[{"filter":"datum.p==22"}],"width":91,"height":92,"layer":[
{"mark":{"type":"rule","strokeDash":[2,2],"color":"#888","strokeWidth":0.6},"encoding":{"y":{"datum":0,"type":"quantitative","axis":{"title":"F","values":[0,1],"labelExpr":"''+datum.value"}}}},
{"encoding":{"x":{"field":"x","type":"quantitative","scale":{"domain":[-1,1],"nice":false},"axis":{"title":null,"values":[-1,-0.5,0,0.5,1],"labelExpr":"''+datum.value"}},"y":{"field":"y","type":"quantitative","scale":{"domain":[-0.91,1.27],"nice":false,"zero":false},"axis":{"title":"F","values":[0,1],"labelExpr":"''+datum.value"}}},"layer":[
{"transform":[{"filter":"datum.s"}],"mark":"line","encoding":{"color":{"field":"s","type":"nominal","scale":{"domain":["A","B","C","D","E"],"range":["#000000","#ff2020","#1a1aff","#20d020","#000000"]},"legend":null},"strokeDash":{"field":"s","type":"nominal","scale":{"domain":["A","B","C","D","E"],"range":[[1,0],[3,2],[1.6,2.6],[9,4],[6,3,1.5,3]]},"legend":null},"strokeWidth":{"field":"s","type":"nominal","scale":{"domain":["A","B","C","D","E"],"range":[2,1.8,2.2,1.8,1.6]},"legend":null}}},
{"transform":[{"filter":"datum.t=='b'"}],"mark":{"type":"errorbar","ticks":true,"color":"#555","clip":true},"encoding":{"yError":{"field":"e"}}},
{"transform":[{"filter":"datum.t=='b'"}],"mark":"circle"}]},
{"transform":[{"filter":"datum.t=='l'"}],"mark":{"type":"text","baseline":"top","dy":4},"encoding":{"x":{"datum":0,"type":"quantitative","axis":{"title":null,"values":[-1,-0.5,0,0.5,1],"labelExpr":"''+datum.value"}},"y":{"datum":1.27,"type":"quantitative","axis":{"title":"F","values":[0,1],"labelExpr":"''+datum.value"}},"text":{"field":"lab"}}}
]},
{"transform":[{"filter":"datum.p==23"}],"width":91,"height":92,"layer":[
{"mark":{"type":"rule","strokeDash":[2,2],"color":"#888","strokeWidth":0.6},"encoding":{"y":{"datum":0,"type":"quantitative","axis":null}}},
{"encoding":{"x":{"field":"x","type":"quantitative","scale":{"domain":[-1,1],"nice":false},"axis":{"title":"cosΘ*η","values":[-1,-0.5,0,0.5,1],"labelExpr":"''+datum.value"}},"y":{"field":"y","type":"quantitative","scale":{"domain":[-0.91,1.27],"nice":false,"zero":false},"axis":null}},"layer":[
{"transform":[{"filter":"datum.s"}],"mark":"line","encoding":{"color":{"field":"s","type":"nominal","scale":{"domain":["A","B","C","D","E"],"range":["#000000","#ff2020","#1a1aff","#20d020","#000000"]},"legend":null},"strokeDash":{"field":"s","type":"nominal","scale":{"domain":["A","B","C","D","E"],"range":[[1,0],[3,2],[1.6,2.6],[9,4],[6,3,1.5,3]]},"legend":null},"strokeWidth":{"field":"s","type":"nominal","scale":{"domain":["A","B","C","D","E"],"range":[2,1.8,2.2,1.8,1.6]},"legend":null}}},
{"transform":[{"filter":"datum.t=='b'"}],"mark":{"type":"errorbar","ticks":true,"color":"#555","clip":true},"encoding":{"yError":{"field":"e"}}},
{"transform":[{"filter":"datum.t=='b'"}],"mark":"circle"}]},
{"transform":[{"filter":"datum.t=='l'"}],"mark":{"type":"text","baseline":"top","dy":4},"encoding":{"x":{"datum":0,"type":"quantitative","axis":{"title":"cosΘ*η","values":[-1,-0.5,0,0.5,1],"labelExpr":"''+datum.value"}},"y":{"datum":1.27,"type":"quantitative","axis":null},"text":{"field":"lab"}}}
]},
{"transform":[{"filter":"datum.p==24"}],"width":91,"height":92,"layer":[
{"mark":{"type":"rule","strokeDash":[2,2],"color":"#888","strokeWidth":0.6},"encoding":{"y":{"datum":0,"type":"quantitative","axis":null}}},
{"encoding":{"x":{"field":"x","type":"quantitative","scale":{"domain":[-1,1],"nice":false},"axis":{"title":null,"values":[-1,-0.5,0,0.5,1],"labelExpr":"''+datum.value"}},"y":{"field":"y","type":"quantitative","scale":{"domain":[-0.91,1.27],"nice":false,"zero":false},"axis":null}},"layer":[
{"transform":[{"filter":"datum.s"}],"mark":"line","encoding":{"color":{"field":"s","type":"nominal","scale":{"domain":["A","B","C","D","E"],"range":["#000000","#ff2020","#1a1aff","#20d020","#000000"]},"legend":null},"strokeDash":{"field":"s","type":"nominal","scale":{"domain":["A","B","C","D","E"],"range":[[1,0],[3,2],[1.6,2.6],[9,4],[6,3,1.5,3]]},"legend":null},"strokeWidth":{"field":"s","type":"nominal","scale":{"domain":["A","B","C","D","E"],"range":[2,1.8,2.2,1.8,1.6]},"legend":null}}},
{"transform":[{"filter":"datum.t=='b'"}],"mark":{"type":"errorbar","ticks":true,"color":"#555","clip":true},"encoding":{"yError":{"field":"e"}}},
{"transform":[{"filter":"datum.t=='b'"}],"mark":"circle"}]},
{"transform":[{"filter":"datum.t=='l'"}],"mark":{"type":"text","baseline":"top","dy":4},"encoding":{"x":{"datum":0,"type":"quantitative","axis":{"title":null,"values":[-1,-0.5,0,0.5,1],"labelExpr":"''+datum.value"}},"y":{"datum":1.27,"type":"quantitative","axis":null},"text":{"field":"lab"}}}
]}
]
}
